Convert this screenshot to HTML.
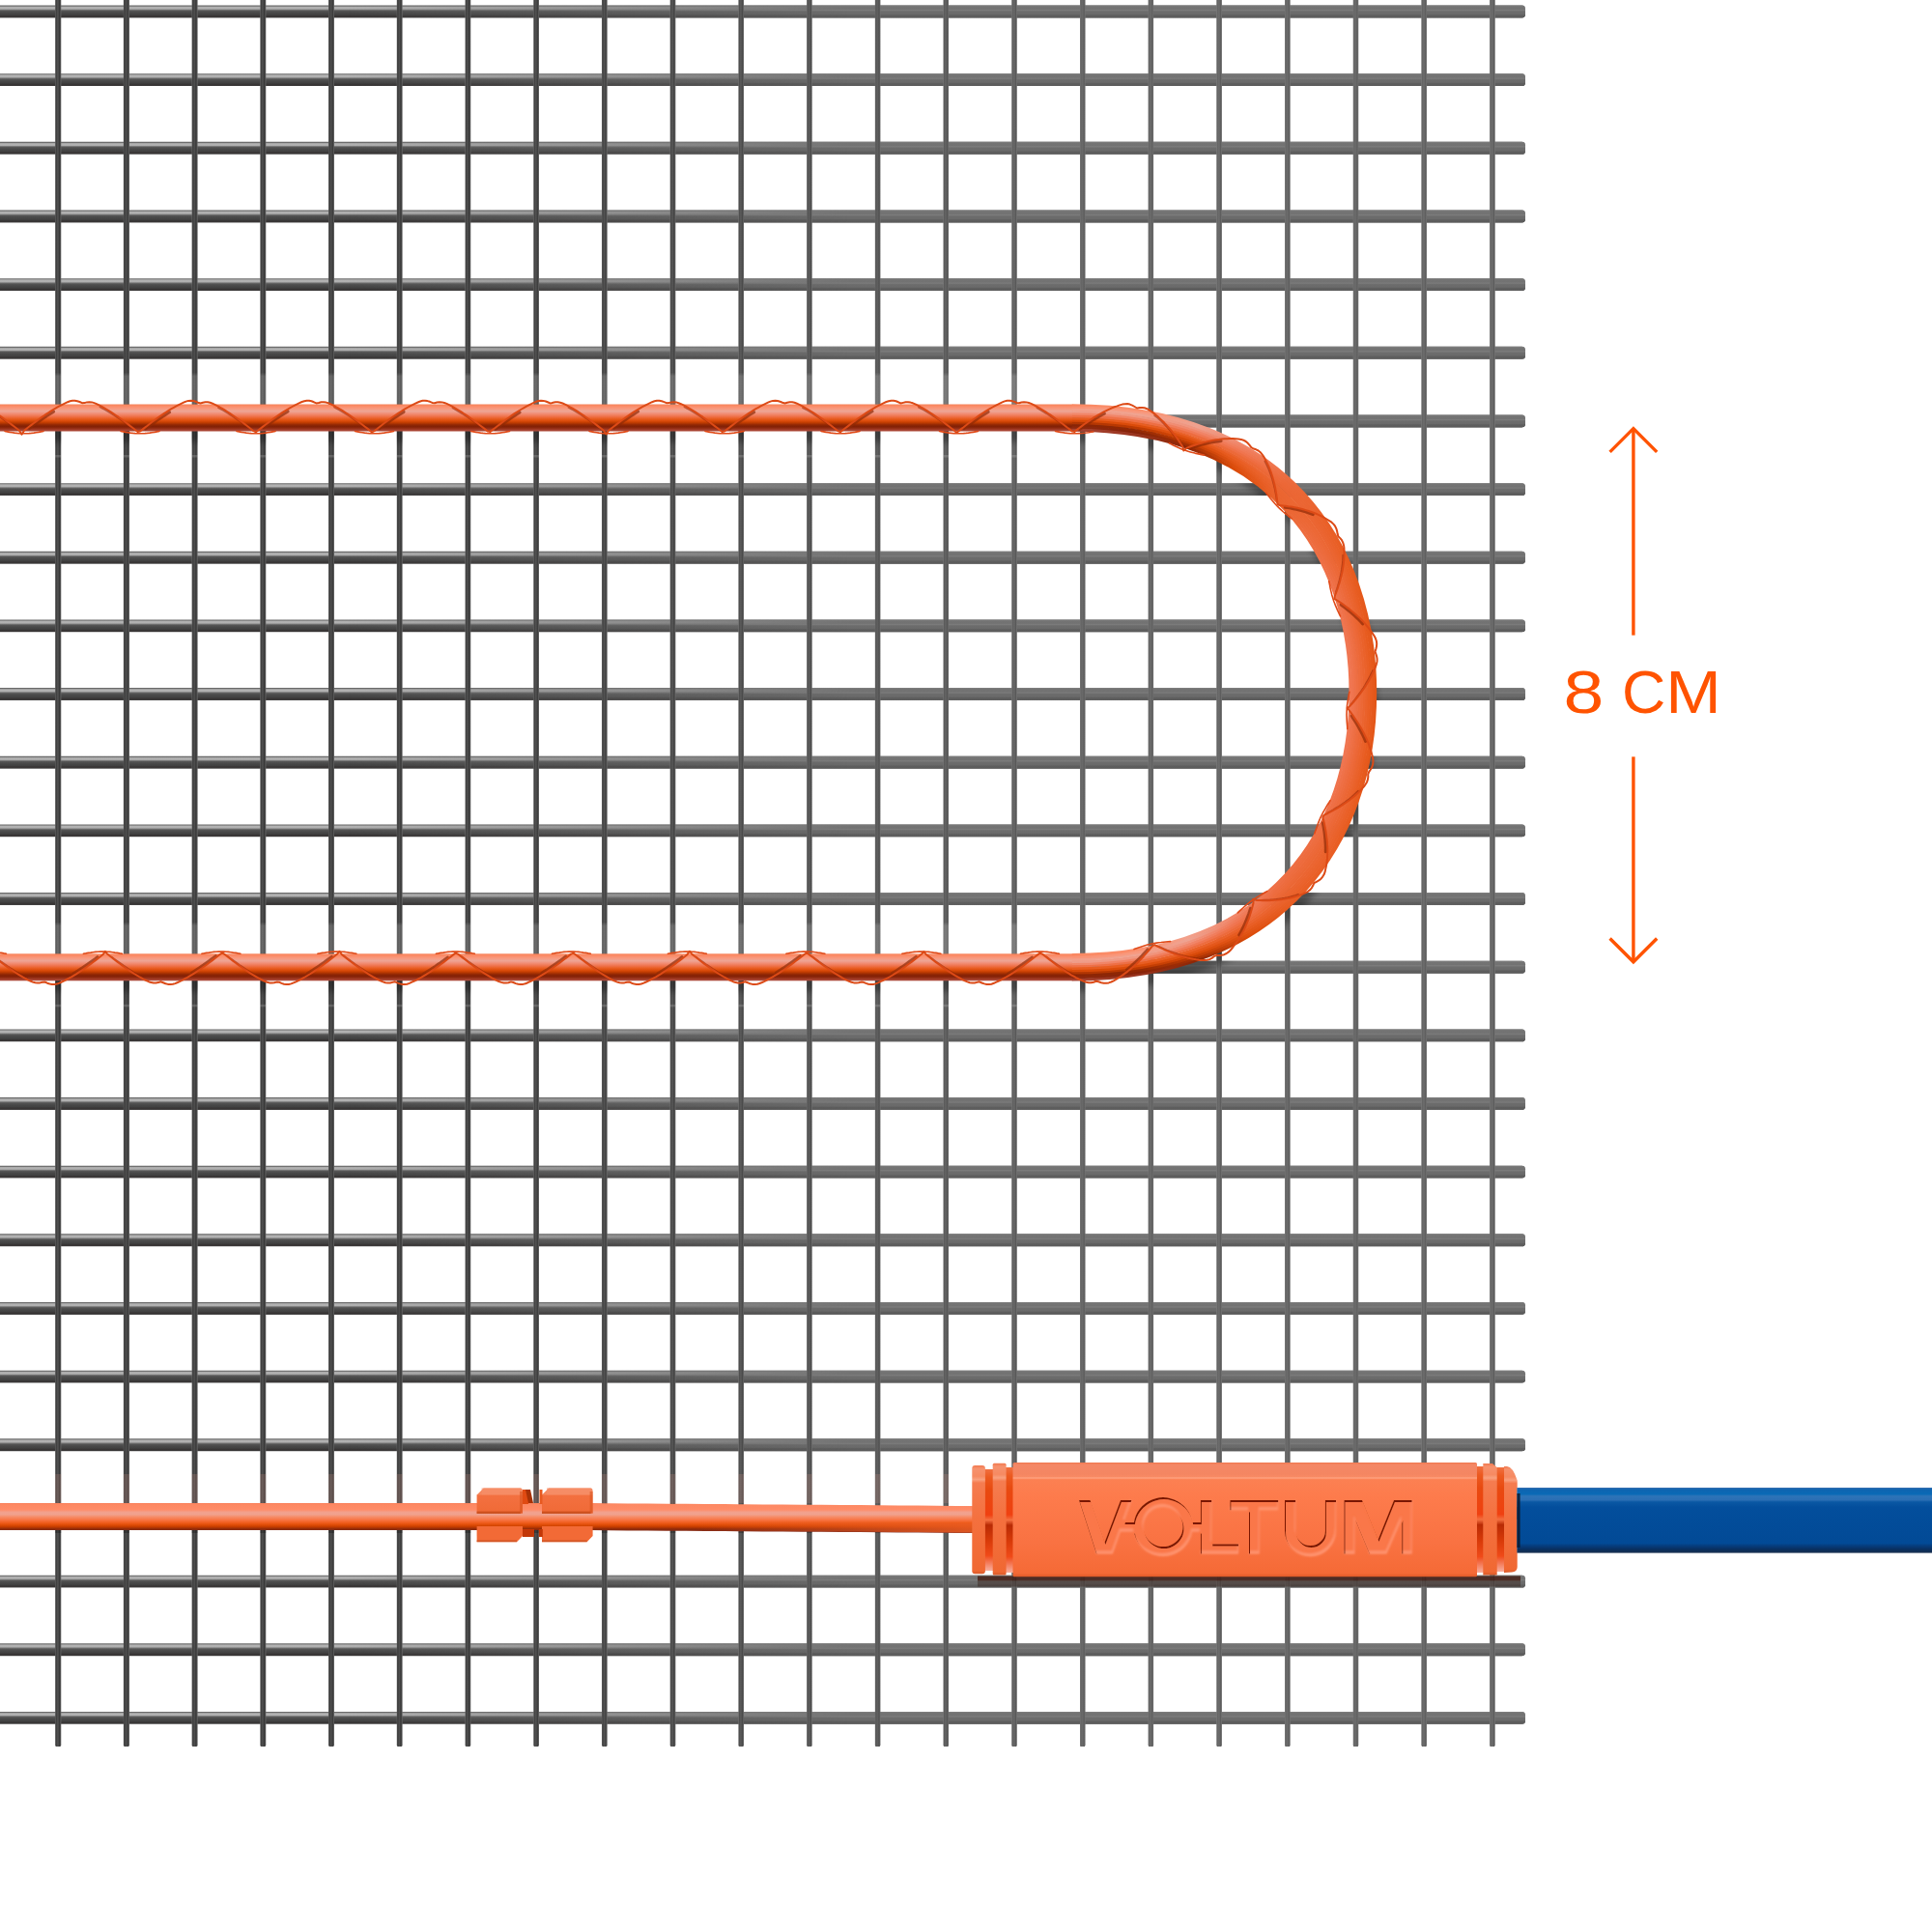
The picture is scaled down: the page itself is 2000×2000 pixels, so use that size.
<!DOCTYPE html><html><head><meta charset="utf-8"><style>html,body{margin:0;padding:0;background:#fff;}svg{display:block}</style></head><body>
<svg width="2000" height="2000" viewBox="0 0 2000 2000">
<defs>
<linearGradient id="hd" x1="0" y1="0" x2="0" y2="1"><stop offset="0.000" stop-color="#666666"/><stop offset="0.060" stop-color="#6e6e6e"/><stop offset="0.100" stop-color="#9c9c9c"/><stop offset="0.160" stop-color="#b2b2b2"/><stop offset="0.280" stop-color="#b0b0b0"/><stop offset="0.360" stop-color="#7a7a7a"/><stop offset="0.440" stop-color="#555555"/><stop offset="0.600" stop-color="#484848"/><stop offset="0.750" stop-color="#424242"/><stop offset="0.860" stop-color="#383535"/><stop offset="0.950" stop-color="#3a3838"/><stop offset="1.000" stop-color="#555555"/></linearGradient>
<linearGradient id="hl" x1="0" y1="0" x2="0" y2="1"><stop offset="0.000" stop-color="#828282"/><stop offset="0.100" stop-color="#747474"/><stop offset="0.300" stop-color="#727272"/><stop offset="0.380" stop-color="#7c7c7c"/><stop offset="0.500" stop-color="#6c6c6c"/><stop offset="0.700" stop-color="#6a6a6a"/><stop offset="0.800" stop-color="#5e5e5e"/><stop offset="0.950" stop-color="#5c5c5c"/><stop offset="1.000" stop-color="#727272"/></linearGradient>
<linearGradient id="vd" x1="0" y1="0" x2="1" y2="0"><stop offset="0.000" stop-color="#6a6a6a"/><stop offset="0.120" stop-color="#444"/><stop offset="0.250" stop-color="#404040"/><stop offset="0.400" stop-color="#505050"/><stop offset="0.550" stop-color="#4a4a4a"/><stop offset="0.700" stop-color="#383838"/><stop offset="0.850" stop-color="#4a4a4a"/><stop offset="1.000" stop-color="#6a6a6a"/></linearGradient>
<linearGradient id="vl" x1="0" y1="0" x2="1" y2="0"><stop offset="0.000" stop-color="#808080"/><stop offset="0.150" stop-color="#646464"/><stop offset="0.400" stop-color="#6c6c6c"/><stop offset="0.600" stop-color="#686868"/><stop offset="0.800" stop-color="#5c5c5c"/><stop offset="1.000" stop-color="#787878"/></linearGradient>
<linearGradient id="mg" gradientUnits="userSpaceOnUse" x1="360" y1="0" x2="880" y2="0"><stop offset="0" stop-color="#000"/><stop offset="1" stop-color="#fff"/></linearGradient>
<mask id="ml" maskUnits="userSpaceOnUse" x="0" y="0" width="2000" height="2000"><rect width="2000" height="2000" fill="url(#mg)"/></mask>
<linearGradient id="mg2" gradientUnits="userSpaceOnUse" x1="520" y1="0" x2="1150" y2="0"><stop offset="0" stop-color="#000"/><stop offset="1" stop-color="#fff"/></linearGradient>
<mask id="ml2" maskUnits="userSpaceOnUse" x="0" y="0" width="2000" height="2000"><rect width="2000" height="2000" fill="url(#mg2)"/></mask>
<linearGradient id="cg" x1="0" y1="0" x2="0" y2="1"><stop offset="0.000" stop-color="#f4845c"/><stop offset="0.025" stop-color="#f7865f"/><stop offset="0.050" stop-color="#fb8963"/><stop offset="0.075" stop-color="#fb8c68"/><stop offset="0.100" stop-color="#fb906e"/><stop offset="0.125" stop-color="#fa9375"/><stop offset="0.150" stop-color="#f9977b"/><stop offset="0.175" stop-color="#f79b81"/><stop offset="0.200" stop-color="#f49e87"/><stop offset="0.225" stop-color="#f1a18d"/><stop offset="0.250" stop-color="#eea594"/><stop offset="0.275" stop-color="#eea290"/><stop offset="0.300" stop-color="#ef9b87"/><stop offset="0.325" stop-color="#f0947e"/><stop offset="0.350" stop-color="#f18d74"/><stop offset="0.375" stop-color="#f1876a"/><stop offset="0.400" stop-color="#f08060"/><stop offset="0.425" stop-color="#f07956"/><stop offset="0.450" stop-color="#ef724b"/><stop offset="0.475" stop-color="#ed6c3f"/><stop offset="0.500" stop-color="#eb6633"/><stop offset="0.525" stop-color="#e96027"/><stop offset="0.550" stop-color="#e65a1d"/><stop offset="0.575" stop-color="#e25416"/><stop offset="0.600" stop-color="#de4e0e"/><stop offset="0.625" stop-color="#d84908"/><stop offset="0.650" stop-color="#cd4305"/><stop offset="0.675" stop-color="#c23d02"/><stop offset="0.700" stop-color="#b53702"/><stop offset="0.725" stop-color="#a63103"/><stop offset="0.750" stop-color="#982a04"/><stop offset="0.775" stop-color="#8e2604"/><stop offset="0.800" stop-color="#872305"/><stop offset="0.825" stop-color="#832107"/><stop offset="0.850" stop-color="#89250b"/><stop offset="0.875" stop-color="#8f290f"/><stop offset="0.900" stop-color="#963119"/><stop offset="0.925" stop-color="#9e3924"/><stop offset="0.950" stop-color="#a5412f"/><stop offset="0.975" stop-color="#ab4838"/><stop offset="1.000" stop-color="#b0503e"/></linearGradient>
<linearGradient id="lbg" x1="0" y1="0" x2="0" y2="1"><stop offset="0" stop-color="#fff" stop-opacity="0"/><stop offset="0.12" stop-color="#fff" stop-opacity="0.16"/><stop offset="1" stop-color="#fff" stop-opacity="0.16"/></linearGradient>
</defs>
<rect width="2000" height="2000" fill="#fff"/>
<g fill="url(#hd)"><rect x="-10" y="5.55" width="1589.0" height="12.9" rx="3.6"/><rect x="-10" y="76.21" width="1589.0" height="12.9" rx="3.6"/><rect x="-10" y="146.86" width="1589.0" height="12.9" rx="3.6"/><rect x="-10" y="217.52" width="1589.0" height="12.9" rx="3.6"/><rect x="-10" y="288.17" width="1589.0" height="12.9" rx="3.6"/><rect x="-10" y="358.83" width="1589.0" height="12.9" rx="3.6"/><rect x="-10" y="429.49" width="1589.0" height="12.9" rx="3.6"/><rect x="-10" y="500.14" width="1589.0" height="12.9" rx="3.6"/><rect x="-10" y="570.80" width="1589.0" height="12.9" rx="3.6"/><rect x="-10" y="641.45" width="1589.0" height="12.9" rx="3.6"/><rect x="-10" y="712.11" width="1589.0" height="12.9" rx="3.6"/><rect x="-10" y="782.77" width="1589.0" height="12.9" rx="3.6"/><rect x="-10" y="853.42" width="1589.0" height="12.9" rx="3.6"/><rect x="-10" y="924.08" width="1589.0" height="12.9" rx="3.6"/><rect x="-10" y="994.73" width="1589.0" height="12.9" rx="3.6"/><rect x="-10" y="1065.39" width="1589.0" height="12.9" rx="3.6"/><rect x="-10" y="1136.05" width="1589.0" height="12.9" rx="3.6"/><rect x="-10" y="1206.70" width="1589.0" height="12.9" rx="3.6"/><rect x="-10" y="1277.36" width="1589.0" height="12.9" rx="3.6"/><rect x="-10" y="1348.01" width="1589.0" height="12.9" rx="3.6"/><rect x="-10" y="1418.67" width="1589.0" height="12.9" rx="3.6"/><rect x="-10" y="1489.33" width="1589.0" height="12.9" rx="3.6"/><rect x="-10" y="1559.98" width="1589.0" height="12.9" rx="3.6"/><rect x="-10" y="1630.64" width="1589.0" height="12.9" rx="3.6"/><rect x="-10" y="1701.29" width="1589.0" height="12.9" rx="3.6"/><rect x="-10" y="1771.95" width="1589.0" height="12.9" rx="3.6"/></g>
<g fill="url(#hl)" mask="url(#ml)"><rect x="-10" y="5.55" width="1589.0" height="12.9" rx="3.6"/><rect x="-10" y="76.21" width="1589.0" height="12.9" rx="3.6"/><rect x="-10" y="146.86" width="1589.0" height="12.9" rx="3.6"/><rect x="-10" y="217.52" width="1589.0" height="12.9" rx="3.6"/><rect x="-10" y="288.17" width="1589.0" height="12.9" rx="3.6"/><rect x="-10" y="358.83" width="1589.0" height="12.9" rx="3.6"/><rect x="-10" y="429.49" width="1589.0" height="12.9" rx="3.6"/><rect x="-10" y="500.14" width="1589.0" height="12.9" rx="3.6"/><rect x="-10" y="570.80" width="1589.0" height="12.9" rx="3.6"/><rect x="-10" y="641.45" width="1589.0" height="12.9" rx="3.6"/><rect x="-10" y="712.11" width="1589.0" height="12.9" rx="3.6"/><rect x="-10" y="782.77" width="1589.0" height="12.9" rx="3.6"/><rect x="-10" y="853.42" width="1589.0" height="12.9" rx="3.6"/><rect x="-10" y="924.08" width="1589.0" height="12.9" rx="3.6"/><rect x="-10" y="994.73" width="1589.0" height="12.9" rx="3.6"/><rect x="-10" y="1065.39" width="1589.0" height="12.9" rx="3.6"/><rect x="-10" y="1136.05" width="1589.0" height="12.9" rx="3.6"/><rect x="-10" y="1206.70" width="1589.0" height="12.9" rx="3.6"/><rect x="-10" y="1277.36" width="1589.0" height="12.9" rx="3.6"/><rect x="-10" y="1348.01" width="1589.0" height="12.9" rx="3.6"/><rect x="-10" y="1418.67" width="1589.0" height="12.9" rx="3.6"/><rect x="-10" y="1489.33" width="1589.0" height="12.9" rx="3.6"/><rect x="-10" y="1559.98" width="1589.0" height="12.9" rx="3.6"/><rect x="-10" y="1630.64" width="1589.0" height="12.9" rx="3.6"/><rect x="-10" y="1701.29" width="1589.0" height="12.9" rx="3.6"/><rect x="-10" y="1771.95" width="1589.0" height="12.9" rx="3.6"/></g>
<g fill="url(#vd)"><rect x="57.10" y="-10" width="6.20" height="1818.0" rx="1.6"/><rect x="127.83" y="-10" width="6.14" height="1818.0" rx="1.6"/><rect x="198.56" y="-10" width="6.07" height="1818.0" rx="1.6"/><rect x="269.30" y="-10" width="6.01" height="1818.0" rx="1.6"/><rect x="340.03" y="-10" width="5.94" height="1818.0" rx="1.6"/><rect x="410.76" y="-10" width="5.88" height="1818.0" rx="1.6"/><rect x="481.49" y="-10" width="5.81" height="1818.0" rx="1.6"/><rect x="552.23" y="-10" width="5.75" height="1818.0" rx="1.6"/><rect x="622.96" y="-10" width="5.69" height="1818.0" rx="1.6"/><rect x="693.69" y="-10" width="5.62" height="1818.0" rx="1.6"/><rect x="764.42" y="-10" width="5.56" height="1818.0" rx="1.6"/><rect x="835.15" y="-10" width="5.49" height="1818.0" rx="1.6"/><rect x="905.89" y="-10" width="5.43" height="1818.0" rx="1.6"/><rect x="976.62" y="-10" width="5.36" height="1818.0" rx="1.6"/><rect x="1047.35" y="-10" width="5.30" height="1818.0" rx="1.6"/><rect x="1118.05" y="-10" width="5.30" height="1818.0" rx="1.6"/><rect x="1188.75" y="-10" width="5.30" height="1818.0" rx="1.6"/><rect x="1259.45" y="-10" width="5.30" height="1818.0" rx="1.6"/><rect x="1330.15" y="-10" width="5.30" height="1818.0" rx="1.6"/><rect x="1400.85" y="-10" width="5.30" height="1818.0" rx="1.6"/><rect x="1471.55" y="-10" width="5.30" height="1818.0" rx="1.6"/><rect x="1542.25" y="-10" width="5.30" height="1818.0" rx="1.6"/></g>
<g fill="url(#vl)" mask="url(#ml2)"><rect x="57.10" y="-10" width="6.20" height="1818.0" rx="1.6"/><rect x="127.83" y="-10" width="6.14" height="1818.0" rx="1.6"/><rect x="198.56" y="-10" width="6.07" height="1818.0" rx="1.6"/><rect x="269.30" y="-10" width="6.01" height="1818.0" rx="1.6"/><rect x="340.03" y="-10" width="5.94" height="1818.0" rx="1.6"/><rect x="410.76" y="-10" width="5.88" height="1818.0" rx="1.6"/><rect x="481.49" y="-10" width="5.81" height="1818.0" rx="1.6"/><rect x="552.23" y="-10" width="5.75" height="1818.0" rx="1.6"/><rect x="622.96" y="-10" width="5.69" height="1818.0" rx="1.6"/><rect x="693.69" y="-10" width="5.62" height="1818.0" rx="1.6"/><rect x="764.42" y="-10" width="5.56" height="1818.0" rx="1.6"/><rect x="835.15" y="-10" width="5.49" height="1818.0" rx="1.6"/><rect x="905.89" y="-10" width="5.43" height="1818.0" rx="1.6"/><rect x="976.62" y="-10" width="5.36" height="1818.0" rx="1.6"/><rect x="1047.35" y="-10" width="5.30" height="1818.0" rx="1.6"/><rect x="1118.05" y="-10" width="5.30" height="1818.0" rx="1.6"/><rect x="1188.75" y="-10" width="5.30" height="1818.0" rx="1.6"/><rect x="1259.45" y="-10" width="5.30" height="1818.0" rx="1.6"/><rect x="1330.15" y="-10" width="5.30" height="1818.0" rx="1.6"/><rect x="1400.85" y="-10" width="5.30" height="1818.0" rx="1.6"/><rect x="1471.55" y="-10" width="5.30" height="1818.0" rx="1.6"/><rect x="1542.25" y="-10" width="5.30" height="1818.0" rx="1.6"/></g>
<mask id="wm" maskUnits="userSpaceOnUse" x="0" y="0" width="2000" height="2000"><g fill="#fff"><rect x="-10" y="5.55" width="1589.0" height="12.9" rx="3.6"/><rect x="-10" y="76.21" width="1589.0" height="12.9" rx="3.6"/><rect x="-10" y="146.86" width="1589.0" height="12.9" rx="3.6"/><rect x="-10" y="217.52" width="1589.0" height="12.9" rx="3.6"/><rect x="-10" y="288.17" width="1589.0" height="12.9" rx="3.6"/><rect x="-10" y="358.83" width="1589.0" height="12.9" rx="3.6"/><rect x="-10" y="429.49" width="1589.0" height="12.9" rx="3.6"/><rect x="-10" y="500.14" width="1589.0" height="12.9" rx="3.6"/><rect x="-10" y="570.80" width="1589.0" height="12.9" rx="3.6"/><rect x="-10" y="641.45" width="1589.0" height="12.9" rx="3.6"/><rect x="-10" y="712.11" width="1589.0" height="12.9" rx="3.6"/><rect x="-10" y="782.77" width="1589.0" height="12.9" rx="3.6"/><rect x="-10" y="853.42" width="1589.0" height="12.9" rx="3.6"/><rect x="-10" y="924.08" width="1589.0" height="12.9" rx="3.6"/><rect x="-10" y="994.73" width="1589.0" height="12.9" rx="3.6"/><rect x="-10" y="1065.39" width="1589.0" height="12.9" rx="3.6"/><rect x="-10" y="1136.05" width="1589.0" height="12.9" rx="3.6"/><rect x="-10" y="1206.70" width="1589.0" height="12.9" rx="3.6"/><rect x="-10" y="1277.36" width="1589.0" height="12.9" rx="3.6"/><rect x="-10" y="1348.01" width="1589.0" height="12.9" rx="3.6"/><rect x="-10" y="1418.67" width="1589.0" height="12.9" rx="3.6"/><rect x="-10" y="1489.33" width="1589.0" height="12.9" rx="3.6"/><rect x="-10" y="1559.98" width="1589.0" height="12.9" rx="3.6"/><rect x="-10" y="1630.64" width="1589.0" height="12.9" rx="3.6"/><rect x="-10" y="1701.29" width="1589.0" height="12.9" rx="3.6"/><rect x="-10" y="1771.95" width="1589.0" height="12.9" rx="3.6"/><rect x="57.10" y="-10" width="6.20" height="1818.0" rx="1.6"/><rect x="127.83" y="-10" width="6.14" height="1818.0" rx="1.6"/><rect x="198.56" y="-10" width="6.07" height="1818.0" rx="1.6"/><rect x="269.30" y="-10" width="6.01" height="1818.0" rx="1.6"/><rect x="340.03" y="-10" width="5.94" height="1818.0" rx="1.6"/><rect x="410.76" y="-10" width="5.88" height="1818.0" rx="1.6"/><rect x="481.49" y="-10" width="5.81" height="1818.0" rx="1.6"/><rect x="552.23" y="-10" width="5.75" height="1818.0" rx="1.6"/><rect x="622.96" y="-10" width="5.69" height="1818.0" rx="1.6"/><rect x="693.69" y="-10" width="5.62" height="1818.0" rx="1.6"/><rect x="764.42" y="-10" width="5.56" height="1818.0" rx="1.6"/><rect x="835.15" y="-10" width="5.49" height="1818.0" rx="1.6"/><rect x="905.89" y="-10" width="5.43" height="1818.0" rx="1.6"/><rect x="976.62" y="-10" width="5.36" height="1818.0" rx="1.6"/><rect x="1047.35" y="-10" width="5.30" height="1818.0" rx="1.6"/><rect x="1118.05" y="-10" width="5.30" height="1818.0" rx="1.6"/><rect x="1188.75" y="-10" width="5.30" height="1818.0" rx="1.6"/><rect x="1259.45" y="-10" width="5.30" height="1818.0" rx="1.6"/><rect x="1330.15" y="-10" width="5.30" height="1818.0" rx="1.6"/><rect x="1400.85" y="-10" width="5.30" height="1818.0" rx="1.6"/><rect x="1471.55" y="-10" width="5.30" height="1818.0" rx="1.6"/><rect x="1542.25" y="-10" width="5.30" height="1818.0" rx="1.6"/></g></mask>
<filter id="sb" x="-5%" y="-5%" width="110%" height="110%"><feGaussianBlur stdDeviation="3"/></filter>
<g mask="url(#wm)"><path d="M-30,432.5 H1109.8 C1322.2,432.5 1410.9,568.4 1410.9,716.9 C1410.9,865.4 1322.2,1001.3 1109.8,1001.3 H-30" transform="translate(3,13)" fill="none" stroke="#000" stroke-width="24" opacity="0.32" filter="url(#sb)"/><path d="M-30,1571 L600,1571 L1010,1574" transform="translate(2,12)" fill="none" stroke="#000" stroke-width="24" opacity="0.25" filter="url(#sb)"/></g>
<rect x="57.10" y="385.5" width="6.20" height="33.0" fill="url(#lbg)"/><rect x="57.10" y="471.0" width="6.20" height="2.5" fill="#fff" opacity="0.16"/><rect x="57.10" y="954.3" width="6.20" height="33.0" fill="url(#lbg)"/><rect x="57.10" y="1039.8" width="6.20" height="2.5" fill="#fff" opacity="0.16"/><rect x="57.10" y="1526.0" width="6.20" height="30.0" fill="#f0a090" opacity="0.18"/><rect x="127.83" y="385.5" width="6.14" height="33.0" fill="url(#lbg)"/><rect x="127.83" y="471.0" width="6.14" height="2.5" fill="#fff" opacity="0.16"/><rect x="127.83" y="954.3" width="6.14" height="33.0" fill="url(#lbg)"/><rect x="127.83" y="1039.8" width="6.14" height="2.5" fill="#fff" opacity="0.16"/><rect x="127.83" y="1526.0" width="6.14" height="30.0" fill="#f0a090" opacity="0.18"/><rect x="198.56" y="385.5" width="6.07" height="33.0" fill="url(#lbg)"/><rect x="198.56" y="471.0" width="6.07" height="2.5" fill="#fff" opacity="0.16"/><rect x="198.56" y="954.3" width="6.07" height="33.0" fill="url(#lbg)"/><rect x="198.56" y="1039.8" width="6.07" height="2.5" fill="#fff" opacity="0.16"/><rect x="198.56" y="1526.0" width="6.07" height="30.0" fill="#f0a090" opacity="0.18"/><rect x="269.30" y="385.5" width="6.01" height="33.0" fill="url(#lbg)"/><rect x="269.30" y="471.0" width="6.01" height="2.5" fill="#fff" opacity="0.16"/><rect x="269.30" y="954.3" width="6.01" height="33.0" fill="url(#lbg)"/><rect x="269.30" y="1039.8" width="6.01" height="2.5" fill="#fff" opacity="0.16"/><rect x="269.30" y="1526.0" width="6.01" height="30.0" fill="#f0a090" opacity="0.18"/><rect x="340.03" y="385.5" width="5.94" height="33.0" fill="url(#lbg)"/><rect x="340.03" y="471.0" width="5.94" height="2.5" fill="#fff" opacity="0.16"/><rect x="340.03" y="954.3" width="5.94" height="33.0" fill="url(#lbg)"/><rect x="340.03" y="1039.8" width="5.94" height="2.5" fill="#fff" opacity="0.16"/><rect x="340.03" y="1526.0" width="5.94" height="30.0" fill="#f0a090" opacity="0.18"/><rect x="410.76" y="385.5" width="5.88" height="33.0" fill="url(#lbg)"/><rect x="410.76" y="471.0" width="5.88" height="2.5" fill="#fff" opacity="0.16"/><rect x="410.76" y="954.3" width="5.88" height="33.0" fill="url(#lbg)"/><rect x="410.76" y="1039.8" width="5.88" height="2.5" fill="#fff" opacity="0.16"/><rect x="410.76" y="1526.0" width="5.88" height="30.0" fill="#f0a090" opacity="0.18"/><rect x="481.49" y="385.5" width="5.81" height="33.0" fill="url(#lbg)"/><rect x="481.49" y="471.0" width="5.81" height="2.5" fill="#fff" opacity="0.16"/><rect x="481.49" y="954.3" width="5.81" height="33.0" fill="url(#lbg)"/><rect x="481.49" y="1039.8" width="5.81" height="2.5" fill="#fff" opacity="0.16"/><rect x="481.49" y="1526.0" width="5.81" height="30.0" fill="#f0a090" opacity="0.18"/><rect x="552.23" y="385.5" width="5.75" height="33.0" fill="url(#lbg)"/><rect x="552.23" y="471.0" width="5.75" height="2.5" fill="#fff" opacity="0.16"/><rect x="552.23" y="954.3" width="5.75" height="33.0" fill="url(#lbg)"/><rect x="552.23" y="1039.8" width="5.75" height="2.5" fill="#fff" opacity="0.16"/><rect x="552.23" y="1526.0" width="5.75" height="30.0" fill="#f0a090" opacity="0.18"/><rect x="622.96" y="385.5" width="5.69" height="33.0" fill="url(#lbg)"/><rect x="622.96" y="471.0" width="5.69" height="2.5" fill="#fff" opacity="0.16"/><rect x="622.96" y="954.3" width="5.69" height="33.0" fill="url(#lbg)"/><rect x="622.96" y="1039.8" width="5.69" height="2.5" fill="#fff" opacity="0.16"/><rect x="622.96" y="1526.0" width="5.69" height="30.0" fill="#f0a090" opacity="0.18"/><rect x="693.69" y="385.5" width="5.62" height="33.0" fill="url(#lbg)"/><rect x="693.69" y="471.0" width="5.62" height="2.5" fill="#fff" opacity="0.16"/><rect x="693.69" y="954.3" width="5.62" height="33.0" fill="url(#lbg)"/><rect x="693.69" y="1039.8" width="5.62" height="2.5" fill="#fff" opacity="0.16"/><rect x="693.69" y="1526.0" width="5.62" height="30.0" fill="#f0a090" opacity="0.18"/><rect x="764.42" y="385.5" width="5.56" height="33.0" fill="url(#lbg)"/><rect x="764.42" y="471.0" width="5.56" height="2.5" fill="#fff" opacity="0.16"/><rect x="764.42" y="954.3" width="5.56" height="33.0" fill="url(#lbg)"/><rect x="764.42" y="1039.8" width="5.56" height="2.5" fill="#fff" opacity="0.16"/><rect x="764.42" y="1526.0" width="5.56" height="30.0" fill="#f0a090" opacity="0.18"/><rect x="835.15" y="385.5" width="5.49" height="33.0" fill="url(#lbg)"/><rect x="835.15" y="471.0" width="5.49" height="2.5" fill="#fff" opacity="0.16"/><rect x="835.15" y="954.3" width="5.49" height="33.0" fill="url(#lbg)"/><rect x="835.15" y="1039.8" width="5.49" height="2.5" fill="#fff" opacity="0.16"/><rect x="835.15" y="1526.0" width="5.49" height="30.0" fill="#f0a090" opacity="0.18"/><rect x="905.89" y="385.5" width="5.43" height="33.0" fill="url(#lbg)"/><rect x="905.89" y="471.0" width="5.43" height="2.5" fill="#fff" opacity="0.16"/><rect x="905.89" y="954.3" width="5.43" height="33.0" fill="url(#lbg)"/><rect x="905.89" y="1039.8" width="5.43" height="2.5" fill="#fff" opacity="0.16"/><rect x="905.89" y="1526.0" width="5.43" height="30.0" fill="#f0a090" opacity="0.18"/><rect x="976.62" y="385.5" width="5.36" height="33.0" fill="url(#lbg)"/><rect x="976.62" y="471.0" width="5.36" height="2.5" fill="#fff" opacity="0.16"/><rect x="976.62" y="954.3" width="5.36" height="33.0" fill="url(#lbg)"/><rect x="976.62" y="1039.8" width="5.36" height="2.5" fill="#fff" opacity="0.16"/><rect x="976.62" y="1526.0" width="5.36" height="30.0" fill="#f0a090" opacity="0.18"/><rect x="1047.35" y="385.5" width="5.30" height="33.0" fill="url(#lbg)"/><rect x="1047.35" y="471.0" width="5.30" height="2.5" fill="#fff" opacity="0.16"/><rect x="1047.35" y="954.3" width="5.30" height="33.0" fill="url(#lbg)"/><rect x="1047.35" y="1039.8" width="5.30" height="2.5" fill="#fff" opacity="0.16"/>
<rect x="-10" y="418.50" width="1120.35" height="28.00" fill="url(#cg)"/>
<rect x="-10" y="987.30" width="1120.35" height="28.00" fill="url(#cg)"/>
<defs><linearGradient id="b1" gradientUnits="userSpaceOnUse" x1="1109.8" y1="419.7" x2="1423.7" y2="716.9"><stop offset="0.000" stop-color="#fa8862"/><stop offset="0.125" stop-color="#fb8f6c"/><stop offset="0.250" stop-color="#f1a28e"/><stop offset="0.375" stop-color="#f18466"/><stop offset="0.500" stop-color="#ed6b3c"/><stop offset="0.625" stop-color="#e96028"/><stop offset="0.750" stop-color="#e75b1e"/><stop offset="0.875" stop-color="#e45719"/><stop offset="1.000" stop-color="#e35617"/></linearGradient><linearGradient id="b2" gradientUnits="userSpaceOnUse" x1="1109.8" y1="422.0" x2="1421.4" y2="716.9"><stop offset="0.000" stop-color="#fa9375"/><stop offset="0.125" stop-color="#f8997e"/><stop offset="0.250" stop-color="#eea290"/><stop offset="0.375" stop-color="#f07e5e"/><stop offset="0.500" stop-color="#ec6a3b"/><stop offset="0.625" stop-color="#ea612a"/><stop offset="0.750" stop-color="#e85d21"/><stop offset="0.875" stop-color="#e65a1d"/><stop offset="1.000" stop-color="#e5581b"/></linearGradient><linearGradient id="b3" gradientUnits="userSpaceOnUse" x1="1109.8" y1="424.3" x2="1419.0" y2="716.9"><stop offset="0.000" stop-color="#f39f89"/><stop offset="0.125" stop-color="#f0a390"/><stop offset="0.250" stop-color="#f0947d"/><stop offset="0.375" stop-color="#f07a57"/><stop offset="0.500" stop-color="#ec6939"/><stop offset="0.625" stop-color="#ea622c"/><stop offset="0.750" stop-color="#e95f25"/><stop offset="0.875" stop-color="#e85c20"/><stop offset="1.000" stop-color="#e75b1f"/></linearGradient><linearGradient id="b4" gradientUnits="userSpaceOnUse" x1="1109.8" y1="426.7" x2="1416.7" y2="716.9"><stop offset="0.000" stop-color="#ef9d8a"/><stop offset="0.125" stop-color="#f09882"/><stop offset="0.250" stop-color="#f1866a"/><stop offset="0.375" stop-color="#f0744e"/><stop offset="0.500" stop-color="#ec6837"/><stop offset="0.625" stop-color="#ea632e"/><stop offset="0.750" stop-color="#ea6129"/><stop offset="0.875" stop-color="#e95f26"/><stop offset="1.000" stop-color="#e95e24"/></linearGradient><linearGradient id="b5" gradientUnits="userSpaceOnUse" x1="1109.8" y1="429.0" x2="1414.4" y2="716.9"><stop offset="0.000" stop-color="#f1876a"/><stop offset="0.125" stop-color="#f18365"/><stop offset="0.250" stop-color="#f07956"/><stop offset="0.375" stop-color="#ee6e43"/><stop offset="0.500" stop-color="#ec6736"/><stop offset="0.625" stop-color="#eb6430"/><stop offset="0.750" stop-color="#ea632d"/><stop offset="0.875" stop-color="#ea622b"/><stop offset="1.000" stop-color="#ea612a"/></linearGradient><linearGradient id="b6" gradientUnits="userSpaceOnUse" x1="1109.8" y1="431.3" x2="1412.0" y2="716.9"><stop offset="0.000" stop-color="#ef7047"/><stop offset="0.125" stop-color="#ee6f45"/><stop offset="0.250" stop-color="#ed6c3f"/><stop offset="0.375" stop-color="#ec6938"/><stop offset="0.500" stop-color="#eb6634"/><stop offset="0.625" stop-color="#eb6532"/><stop offset="0.750" stop-color="#eb6531"/><stop offset="0.875" stop-color="#eb6530"/><stop offset="1.000" stop-color="#eb6430"/></linearGradient><linearGradient id="b7" gradientUnits="userSpaceOnUse" x1="1109.7" y1="433.7" x2="1409.7" y2="716.9"><stop offset="0.000" stop-color="#e85c20"/><stop offset="0.125" stop-color="#e85d21"/><stop offset="0.250" stop-color="#e96027"/><stop offset="0.375" stop-color="#ea632e"/><stop offset="0.500" stop-color="#eb6632"/><stop offset="0.625" stop-color="#eb6734"/><stop offset="0.750" stop-color="#ec6735"/><stop offset="0.875" stop-color="#ec6736"/><stop offset="1.000" stop-color="#ec6836"/></linearGradient><linearGradient id="b8" gradientUnits="userSpaceOnUse" x1="1109.7" y1="436.0" x2="1407.4" y2="716.9"><stop offset="0.000" stop-color="#d84908"/><stop offset="0.125" stop-color="#db4c0a"/><stop offset="0.250" stop-color="#e25415"/><stop offset="0.375" stop-color="#e95e23"/><stop offset="0.500" stop-color="#eb6530"/><stop offset="0.625" stop-color="#ec6836"/><stop offset="0.750" stop-color="#ec6939"/><stop offset="0.875" stop-color="#ed6a3b"/><stop offset="1.000" stop-color="#ed6b3c"/></linearGradient><linearGradient id="b9" gradientUnits="userSpaceOnUse" x1="1109.7" y1="438.3" x2="1405.0" y2="716.9"><stop offset="0.000" stop-color="#b03503"/><stop offset="0.125" stop-color="#bc3a02"/><stop offset="0.250" stop-color="#d74807"/><stop offset="0.375" stop-color="#e5591c"/><stop offset="0.500" stop-color="#ea642f"/><stop offset="0.625" stop-color="#ec6938"/><stop offset="0.750" stop-color="#ed6b3d"/><stop offset="0.875" stop-color="#ed6d41"/><stop offset="1.000" stop-color="#ee6e42"/></linearGradient><linearGradient id="b10" gradientUnits="userSpaceOnUse" x1="1109.7" y1="440.7" x2="1402.7" y2="716.9"><stop offset="0.000" stop-color="#8a2405"/><stop offset="0.125" stop-color="#912804"/><stop offset="0.250" stop-color="#c13c02"/><stop offset="0.375" stop-color="#e25415"/><stop offset="0.500" stop-color="#ea632d"/><stop offset="0.625" stop-color="#ec6a3a"/><stop offset="0.750" stop-color="#ed6d41"/><stop offset="0.875" stop-color="#ee7046"/><stop offset="1.000" stop-color="#ef7148"/></linearGradient><linearGradient id="b11" gradientUnits="userSpaceOnUse" x1="1109.7" y1="443.0" x2="1400.4" y2="716.9"><stop offset="0.000" stop-color="#8f290f"/><stop offset="0.125" stop-color="#862309"/><stop offset="0.250" stop-color="#a33003"/><stop offset="0.375" stop-color="#de4f0e"/><stop offset="0.500" stop-color="#ea622b"/><stop offset="0.625" stop-color="#ed6b3c"/><stop offset="0.750" stop-color="#ee6f45"/><stop offset="0.875" stop-color="#ef734c"/><stop offset="1.000" stop-color="#f0744e"/></linearGradient><linearGradient id="b12" gradientUnits="userSpaceOnUse" x1="1109.7" y1="445.3" x2="1398.0" y2="716.9"><stop offset="0.000" stop-color="#a74333"/><stop offset="0.125" stop-color="#9a351f"/><stop offset="0.250" stop-color="#8d2505"/><stop offset="0.375" stop-color="#da4a08"/><stop offset="0.500" stop-color="#e96129"/><stop offset="0.625" stop-color="#ed6c3e"/><stop offset="0.750" stop-color="#ef7149"/><stop offset="0.875" stop-color="#f07651"/><stop offset="1.000" stop-color="#f07753"/></linearGradient><linearGradient id="b13" gradientUnits="userSpaceOnUse" x1="1423.7" y1="716.9" x2="1109.8" y2="1014.1"><stop offset="0.000" stop-color="#e35617"/><stop offset="0.125" stop-color="#e45719"/><stop offset="0.250" stop-color="#e75b1e"/><stop offset="0.375" stop-color="#e95f26"/><stop offset="0.500" stop-color="#e85c21"/><stop offset="0.625" stop-color="#da4a08"/><stop offset="0.750" stop-color="#8e2604"/><stop offset="0.875" stop-color="#98331d"/><stop offset="1.000" stop-color="#a74333"/></linearGradient><linearGradient id="b14" gradientUnits="userSpaceOnUse" x1="1421.4" y1="716.9" x2="1109.8" y2="1011.8"><stop offset="0.000" stop-color="#e5581b"/><stop offset="0.125" stop-color="#e65a1d"/><stop offset="0.250" stop-color="#e85d21"/><stop offset="0.375" stop-color="#e96028"/><stop offset="0.500" stop-color="#e95e24"/><stop offset="0.625" stop-color="#de4f0f"/><stop offset="0.750" stop-color="#a73103"/><stop offset="0.875" stop-color="#862309"/><stop offset="1.000" stop-color="#8f290f"/></linearGradient><linearGradient id="b15" gradientUnits="userSpaceOnUse" x1="1419.0" y1="716.9" x2="1109.8" y2="1009.5"><stop offset="0.000" stop-color="#e75b1f"/><stop offset="0.125" stop-color="#e85c20"/><stop offset="0.250" stop-color="#e95f25"/><stop offset="0.375" stop-color="#ea612b"/><stop offset="0.500" stop-color="#e96027"/><stop offset="0.625" stop-color="#e15314"/><stop offset="0.750" stop-color="#c23d03"/><stop offset="0.875" stop-color="#912804"/><stop offset="1.000" stop-color="#8a2405"/></linearGradient><linearGradient id="b16" gradientUnits="userSpaceOnUse" x1="1416.7" y1="716.9" x2="1109.8" y2="1007.1"><stop offset="0.000" stop-color="#e95e24"/><stop offset="0.125" stop-color="#e95f26"/><stop offset="0.250" stop-color="#ea6129"/><stop offset="0.375" stop-color="#ea632d"/><stop offset="0.500" stop-color="#ea622b"/><stop offset="0.625" stop-color="#e5581b"/><stop offset="0.750" stop-color="#d84908"/><stop offset="0.875" stop-color="#bc3a02"/><stop offset="1.000" stop-color="#b03503"/></linearGradient><linearGradient id="b17" gradientUnits="userSpaceOnUse" x1="1414.4" y1="716.9" x2="1109.8" y2="1004.8"><stop offset="0.000" stop-color="#ea612a"/><stop offset="0.125" stop-color="#ea622b"/><stop offset="0.250" stop-color="#ea632d"/><stop offset="0.375" stop-color="#eb642f"/><stop offset="0.500" stop-color="#ea632e"/><stop offset="0.625" stop-color="#e85d23"/><stop offset="0.750" stop-color="#e25416"/><stop offset="0.875" stop-color="#db4c0a"/><stop offset="1.000" stop-color="#d84908"/></linearGradient><linearGradient id="b18" gradientUnits="userSpaceOnUse" x1="1412.0" y1="716.9" x2="1109.8" y2="1002.5"><stop offset="0.000" stop-color="#eb6430"/><stop offset="0.125" stop-color="#eb6530"/><stop offset="0.250" stop-color="#eb6531"/><stop offset="0.375" stop-color="#eb6532"/><stop offset="0.500" stop-color="#eb6531"/><stop offset="0.625" stop-color="#ea632e"/><stop offset="0.750" stop-color="#e96027"/><stop offset="0.875" stop-color="#e85d21"/><stop offset="1.000" stop-color="#e85c20"/></linearGradient><linearGradient id="b19" gradientUnits="userSpaceOnUse" x1="1409.7" y1="716.9" x2="1109.7" y2="1000.1"><stop offset="0.000" stop-color="#ec6836"/><stop offset="0.125" stop-color="#ec6736"/><stop offset="0.250" stop-color="#ec6735"/><stop offset="0.375" stop-color="#eb6734"/><stop offset="0.500" stop-color="#eb6735"/><stop offset="0.625" stop-color="#ec6939"/><stop offset="0.750" stop-color="#ed6c3f"/><stop offset="0.875" stop-color="#ee6f45"/><stop offset="1.000" stop-color="#ef7047"/></linearGradient><linearGradient id="b20" gradientUnits="userSpaceOnUse" x1="1407.4" y1="716.9" x2="1109.7" y2="997.8"><stop offset="0.000" stop-color="#ed6b3c"/><stop offset="0.125" stop-color="#ed6a3b"/><stop offset="0.250" stop-color="#ec6939"/><stop offset="0.375" stop-color="#ec6837"/><stop offset="0.500" stop-color="#ec6938"/><stop offset="0.625" stop-color="#ee6f44"/><stop offset="0.750" stop-color="#f07957"/><stop offset="0.875" stop-color="#f18365"/><stop offset="1.000" stop-color="#f1876a"/></linearGradient><linearGradient id="b21" gradientUnits="userSpaceOnUse" x1="1405.0" y1="716.9" x2="1109.7" y2="995.5"><stop offset="0.000" stop-color="#ee6e42"/><stop offset="0.125" stop-color="#ed6d41"/><stop offset="0.250" stop-color="#ed6b3d"/><stop offset="0.375" stop-color="#ec6939"/><stop offset="0.500" stop-color="#ed6b3c"/><stop offset="0.625" stop-color="#f0744f"/><stop offset="0.750" stop-color="#f1876b"/><stop offset="0.875" stop-color="#f09882"/><stop offset="1.000" stop-color="#ef9d8a"/></linearGradient><linearGradient id="b22" gradientUnits="userSpaceOnUse" x1="1402.7" y1="716.9" x2="1109.7" y2="993.1"><stop offset="0.000" stop-color="#ef7148"/><stop offset="0.125" stop-color="#ee7046"/><stop offset="0.250" stop-color="#ee6d41"/><stop offset="0.375" stop-color="#ed6b3c"/><stop offset="0.500" stop-color="#ed6c3f"/><stop offset="0.625" stop-color="#f07a58"/><stop offset="0.750" stop-color="#f0957f"/><stop offset="0.875" stop-color="#f0a390"/><stop offset="1.000" stop-color="#f39f89"/></linearGradient><linearGradient id="b23" gradientUnits="userSpaceOnUse" x1="1400.4" y1="716.9" x2="1109.7" y2="990.8"><stop offset="0.000" stop-color="#f0744e"/><stop offset="0.125" stop-color="#ef734c"/><stop offset="0.250" stop-color="#ee6f45"/><stop offset="0.375" stop-color="#ed6c3e"/><stop offset="0.500" stop-color="#ee6e43"/><stop offset="0.625" stop-color="#f08061"/><stop offset="0.750" stop-color="#eea392"/><stop offset="0.875" stop-color="#f8997e"/><stop offset="1.000" stop-color="#fa9375"/></linearGradient><linearGradient id="b24" gradientUnits="userSpaceOnUse" x1="1398.0" y1="716.9" x2="1109.7" y2="988.5"><stop offset="0.000" stop-color="#f07753"/><stop offset="0.125" stop-color="#f07651"/><stop offset="0.250" stop-color="#ef7149"/><stop offset="0.375" stop-color="#ed6d41"/><stop offset="0.500" stop-color="#ee7046"/><stop offset="0.625" stop-color="#f1876a"/><stop offset="0.750" stop-color="#f2a18c"/><stop offset="0.875" stop-color="#fb8e6b"/><stop offset="1.000" stop-color="#fa8862"/></linearGradient></defs>
<g fill="none" stroke-linecap="butt"><path d="M1109.8,419.7C1329.7,419.7 1423.7,562.2 1423.7,716.9" stroke="url(#b1)" stroke-width="3.03"/><path d="M1109.8,422.0C1326.7,422.0 1421.4,560.8 1421.4,716.9" stroke="url(#b2)" stroke-width="3.03"/><path d="M1109.8,424.3C1327.0,424.3 1419.0,564.3 1419.0,716.9" stroke="url(#b3)" stroke-width="3.03"/><path d="M1109.8,426.7C1325.7,426.7 1416.7,565.3 1416.7,716.9" stroke="url(#b4)" stroke-width="3.03"/><path d="M1109.8,429.0C1324.5,429.0 1414.4,566.4 1414.4,716.9" stroke="url(#b5)" stroke-width="3.03"/><path d="M1109.8,431.3C1323.2,431.3 1412.0,567.5 1412.0,716.9" stroke="url(#b6)" stroke-width="3.03"/><path d="M1109.7,433.7C1322.4,433.7 1409.7,570.3 1409.7,716.9" stroke="url(#b7)" stroke-width="3.03"/><path d="M1109.7,436.0C1321.1,436.0 1407.4,571.3 1407.4,716.9" stroke="url(#b8)" stroke-width="3.03"/><path d="M1109.7,438.3C1319.8,438.3 1405.0,572.4 1405.0,716.9" stroke="url(#b9)" stroke-width="3.03"/><path d="M1109.7,440.7C1318.5,440.7 1402.7,573.4 1402.7,716.9" stroke="url(#b10)" stroke-width="3.03"/><path d="M1109.7,443.0C1317.2,443.0 1400.4,574.5 1400.4,716.9" stroke="url(#b11)" stroke-width="3.03"/><path d="M1109.7,445.3C1316.8,445.3 1398.0,577.4 1398.0,716.9" stroke="url(#b12)" stroke-width="3.03"/><path d="M1423.7,716.9C1423.7,871.6 1329.7,1014.1 1109.8,1014.1" stroke="url(#b13)" stroke-width="3.03"/><path d="M1421.4,716.9C1421.4,873.0 1326.7,1011.8 1109.8,1011.8" stroke="url(#b14)" stroke-width="3.03"/><path d="M1419.0,716.9C1419.0,869.5 1327.0,1009.5 1109.8,1009.5" stroke="url(#b15)" stroke-width="3.03"/><path d="M1416.7,716.9C1416.7,868.5 1325.7,1007.1 1109.8,1007.1" stroke="url(#b16)" stroke-width="3.03"/><path d="M1414.4,716.9C1414.4,867.4 1324.5,1004.8 1109.8,1004.8" stroke="url(#b17)" stroke-width="3.03"/><path d="M1412.0,716.9C1412.0,866.3 1323.2,1002.5 1109.8,1002.5" stroke="url(#b18)" stroke-width="3.03"/><path d="M1409.7,716.9C1409.7,863.5 1322.4,1000.1 1109.7,1000.1" stroke="url(#b19)" stroke-width="3.03"/><path d="M1407.4,716.9C1407.4,862.5 1321.1,997.8 1109.7,997.8" stroke="url(#b20)" stroke-width="3.03"/><path d="M1405.0,716.9C1405.0,861.4 1319.8,995.5 1109.7,995.5" stroke="url(#b21)" stroke-width="3.03"/><path d="M1402.7,716.9C1402.7,860.4 1318.5,993.1 1109.7,993.1" stroke="url(#b22)" stroke-width="3.03"/><path d="M1400.4,716.9C1400.4,859.3 1317.2,990.8 1109.7,990.8" stroke="url(#b23)" stroke-width="3.03"/><path d="M1398.0,716.9C1398.0,856.4 1316.8,988.5 1109.7,988.5" stroke="url(#b24)" stroke-width="3.03"/></g>
<g fill="none" stroke-linecap="round" stroke-linejoin="round">
<g stroke="#8e2a06" stroke-width="3.2" stroke-opacity="0.7"><polyline points="30.5,443.2 33,441.3 35.5,439.5 38,437.7 40.5,435.9 43,434.1 45.5,432.4 48,430.8 50.5,429.1 53,427.6 55.5,426.1"/><polyline points="150.5,443.9 153,442 155.5,440.2 158,438.4 160.5,436.6 163,434.8 165.5,433.1 168,431.4 170.5,429.8 173,428.2 175.5,426.7"/><polyline points="273,442.8 275.5,440.9 278,439.1 280.5,437.3 283,435.5 285.5,433.8 288,432.1 290.5,430.4 293,428.8 295.5,427.3 298,425.8"/><polyline points="393,443.5 395.5,441.6 398,439.8 400.5,438 403,436.2 405.5,434.5 408,432.7 410.5,431.1 413,429.4 415.5,427.9 418,426.3"/><polyline points="513,444.2 515.5,442.4 518,440.5 520.5,438.7 523,436.9 525.5,435.2 528,433.4 530.5,431.7 533,430.1 535.5,428.5 538,426.9"/><polyline points="635.5,443.1 638,441.3 640.5,439.4 643,437.6 645.5,435.8 648,434.1 650.5,432.4 653,430.7 655.5,429.1 658,427.5 660.5,426"/><polyline points="755.5,443.8 758,442 760.5,440.2 763,438.3 765.5,436.5 768,434.8 770.5,433.1 773,431.4 775.5,429.7 778,428.2 780.5,426.6"/><polyline points="878,442.7 880.5,440.9 883,439.1 885.5,437.3 888,435.5 890.5,433.7 893,432 895.5,430.4 898,428.8 900.5,427.2 903,425.7"/><polyline points="998,443.5 1000.5,441.6 1003,439.8 1005.5,438 1008,436.2 1010.5,434.4 1013,432.7 1015.5,431 1018,429.4 1020.5,427.8 1023,426.3"/><polyline points="1117.9,444.3 1120.3,442.4 1122.8,440.7 1125.3,438.9 1127.9,437.2 1130.4,435.5 1133,433.9 1135.5,432.4 1138.1,430.9 1140.7,429.4 1143.3,428.1"/><polyline points="1234.8,462.9 1237.6,462 1240.5,461.2 1243.5,460.3 1246.4,459.6 1249.3,458.9 1252.3,458.3 1255.2,457.7 1258.2,457.2 1261.1,456.8 1264,456.5"/><polyline points="1330.2,525.1 1333.2,525.5 1336.1,526 1339.1,526.6 1342,527.3 1345,528 1347.9,528.7 1350.7,529.6 1353.6,530.5 1356.4,531.5 1359.2,532.5"/><polyline points="1388.2,625.9 1390.6,627.7 1393,629.5 1395.4,631.4 1397.7,633.3 1400,635.3 1402.3,637.3 1404.4,639.3 1406.6,641.4 1408.6,643.5 1410.6,645.7"/><polyline points="1399.2,741 1400.8,743.6 1402.5,746.1 1404.1,748.7 1405.6,751.3 1407.1,753.9 1408.5,756.6 1409.9,759.3 1411.2,761.9 1412.5,764.6 1413.6,767.3"/><polyline points="1369.4,851.9 1370,854.9 1370.5,857.8 1371,860.8 1371.4,863.8 1371.7,866.8 1372,869.8 1372.2,872.8 1372.4,875.8 1372.4,878.8 1372.4,881.7"/><polyline points="1294.6,940.3 1293.7,943.2 1292.8,946 1291.7,948.9 1290.6,951.7 1289.5,954.5 1288.3,957.2 1287,959.9 1285.7,962.6 1284.3,965.2 1282.8,967.8"/><polyline points="1188.2,982.9 1186.2,985.2 1184.1,987.4 1182.1,989.6 1179.9,991.8 1177.8,993.9 1175.6,996 1173.4,998 1171.2,1000 1168.9,1001.9 1166.6,1003.8"/><polyline points="1068.4,991.2 1065.9,993 1063.4,994.8 1060.9,996.6 1058.4,998.4 1055.9,1000.1 1053.4,1001.8 1050.9,1003.5 1048.4,1005.1 1045.9,1006.6 1043.4,1008.1"/><polyline points="948.4,990.4 945.9,992.3 943.4,994.1 940.9,995.9 938.4,997.7 935.9,999.5 933.4,1001.2 930.9,1002.8 928.4,1004.5 925.9,1006 923.4,1007.6"/><polyline points="828.4,989.7 825.9,991.5 823.4,993.4 820.9,995.2 818.4,997 815.9,998.8 813.4,1000.5 810.9,1002.2 808.4,1003.8 805.9,1005.4 803.4,1007"/><polyline points="705.9,990.8 703.4,992.7 700.9,994.5 698.4,996.3 695.9,998.1 693.4,999.8 690.9,1001.5 688.4,1003.2 685.9,1004.8 683.4,1006.4 680.9,1007.9"/><polyline points="585.9,990.1 583.4,991.9 580.9,993.8 578.4,995.6 575.9,997.4 573.4,999.1 570.9,1000.8 568.4,1002.5 565.9,1004.2 563.4,1005.7 560.9,1007.3"/><polyline points="463.4,991.2 460.9,993 458.4,994.9 455.9,996.7 453.4,998.4 450.9,1000.2 448.4,1001.9 445.9,1003.5 443.4,1005.1 440.9,1006.7 438.4,1008.2"/><polyline points="343.4,990.5 340.9,992.3 338.4,994.1 335.9,996 333.4,997.7 330.9,999.5 328.4,1001.2 325.9,1002.9 323.4,1004.5 320.9,1006.1 318.4,1007.6"/><polyline points="223.4,989.7 220.9,991.6 218.4,993.4 215.9,995.2 213.4,997 210.9,998.8 208.4,1000.5 205.9,1002.2 203.4,1003.9 200.9,1005.5 198.4,1007"/><polyline points="100.9,990.8 98.4,992.7 95.9,994.5 93.4,996.3 90.9,998.1 88.4,999.8 85.9,1001.6 83.4,1003.2 80.9,1004.8 78.4,1006.4 75.9,1007.9"/></g>
<g stroke="#e04a18" stroke-width="1.6"><polyline points="5,446.5 7.5,446.9 10,447.4 12.5,447.7 15,448.1 17.5,448.4 20,448.6 22.5,448.7 25,448.7 27.5,448.7 30,448.6 32.5,448.4 35,448.1 37.5,447.7 40,447.4 42.5,446.9 45,446.5"/><polyline points="125,446.5 127.5,446.9 130,447.4 132.5,447.7 135,448.1 137.5,448.4 140,448.6 142.5,448.7 145,448.7 147.5,448.7 150,448.6 152.5,448.4 155,448.1 157.5,447.7 160,447.4 162.5,446.9 165,446.5"/><polyline points="245,446.5 247.5,446.9 250,447.4 252.5,447.7 255,448.1 257.5,448.4 260,448.6 262.5,448.7 265,448.7 267.5,448.7 270,448.6 272.5,448.4 275,448.1 277.5,447.7 280,447.4 282.5,446.9 285,446.5"/><polyline points="367.5,446.5 370,446.9 372.5,447.4 375,447.7 377.5,448.1 380,448.4 382.5,448.6 385,448.7 387.5,448.7 390,448.7 392.5,448.6 395,448.4 397.5,448.1 400,447.7 402.5,447.4 405,446.9 407.5,446.5"/><polyline points="487.5,446.5 490,446.9 492.5,447.4 495,447.7 497.5,448.1 500,448.4 502.5,448.6 505,448.7 507.5,448.7 510,448.7 512.5,448.6 515,448.4 517.5,448.1 520,447.7 522.5,447.4 525,446.9 527.5,446.5"/><polyline points="610,446.5 612.5,446.9 615,447.4 617.5,447.7 620,448.1 622.5,448.4 625,448.6 627.5,448.7 630,448.7 632.5,448.7 635,448.6 637.5,448.4 640,448.1 642.5,447.7 645,447.4 647.5,446.9 650,446.5"/><polyline points="730,446.5 732.5,446.9 735,447.4 737.5,447.7 740,448.1 742.5,448.4 745,448.6 747.5,448.7 750,448.7 752.5,448.7 755,448.6 757.5,448.4 760,448.1 762.5,447.7 765,447.4 767.5,446.9 770,446.5"/><polyline points="850,446.5 852.5,446.9 855,447.4 857.5,447.7 860,448.1 862.5,448.4 865,448.6 867.5,448.7 870,448.7 872.5,448.7 875,448.6 877.5,448.4 880,448.1 882.5,447.7 885,447.4 887.5,446.9 890,446.5"/><polyline points="972.5,446.5 975,446.9 977.5,447.4 980,447.7 982.5,448.1 985,448.4 987.5,448.6 990,448.7 992.5,448.7 995,448.7 997.5,448.6 1000,448.4 1002.5,448.1 1005,447.7 1007.5,447.4 1010,446.9 1012.5,446.5"/><polyline points="1092.5,446.5 1095,446.9 1097.5,447.4 1100,447.7 1102.5,448.1 1105,448.4 1107.5,448.6 1109.9,448.7 1112.4,448.8 1114.8,448.7 1117.2,448.6 1119.7,448.5 1122.1,448.2 1124.5,448 1126.9,447.7 1129.4,447.3 1131.8,447"/><polyline points="1210.3,458.8 1212.4,459.9 1214.6,461 1216.8,462 1219,463 1221.2,464 1223.4,464.9 1225.6,465.7 1227.8,466.5 1230.1,467.3 1232.3,467.9 1234.6,468.5 1236.9,469.1 1239.3,469.6 1241.6,470.1 1244,470.6 1246.4,471.1"/><polyline points="1310.7,510.3 1312.2,512.2 1313.7,514 1315.2,515.9 1316.7,517.7 1318.2,519.5 1319.7,521.3 1321.3,523 1322.9,524.7 1324.6,526.3 1326.3,527.9 1328,529.5 1329.8,531 1331.7,532.5 1333.5,534 1335.4,535.5 1337.2,537"/><polyline points="1375.7,601.7 1376.2,604.1 1376.7,606.4 1377.1,608.8 1377.6,611.1 1378.2,613.4 1378.7,615.7 1379.4,618 1380.1,620.3 1380.8,622.5 1381.7,624.7 1382.5,626.9 1383.5,629.1 1384.4,631.3 1385.4,633.5 1386.4,635.7 1387.5,637.9"/><polyline points="1396.9,716.2 1396.4,718.6 1396,721 1395.6,723.4 1395.2,725.8 1394.8,728.2 1394.5,730.6 1394.3,732.9 1394.2,735.3 1394.1,737.7 1394,740.1 1394.1,742.5 1394.2,744.9 1394.3,747.3 1394.5,749.7 1394.7,752.1 1394.8,754.6"/><polyline points="1377.1,828.6 1375.8,830.7 1374.5,832.7 1373.3,834.7 1372.1,836.8 1370.9,838.8 1369.7,840.9 1368.6,843 1367.6,845.1 1366.6,847.2 1365.7,849.4 1364.8,851.6 1364,853.8 1363.2,856 1362.4,858.3 1361.6,860.5 1360.8,862.8"/><polyline points="1311.7,922.6 1309.7,923.8 1307.6,925 1305.5,926.2 1303.5,927.4 1301.5,928.6 1299.5,929.9 1297.6,931.2 1295.7,932.5 1293.8,933.9 1292,935.4 1290.2,936.9 1288.4,938.4 1286.6,940 1284.8,941.6 1283.1,943.2 1281.3,944.9"/><polyline points="1211.6,974.6 1209.2,974.8 1206.7,975 1204.3,975.2 1201.9,975.5 1199.6,975.7 1197.2,976.1 1194.8,976.5 1192.5,976.9 1190.2,977.5 1187.8,978 1185.5,978.7 1183.2,979.4 1180.9,980.2 1178.6,981 1176.3,981.8 1174,982.6"/><polyline points="1096.4,987.3 1093.9,986.9 1091.4,986.4 1088.9,986.1 1086.4,985.7 1083.9,985.4 1081.4,985.2 1078.9,985.1 1076.4,985.1 1073.9,985.1 1071.4,985.2 1068.9,985.4 1066.4,985.7 1063.9,986.1 1061.4,986.4 1058.9,986.9 1056.4,987.3"/><polyline points="973.9,987.3 971.4,986.9 968.9,986.4 966.4,986.1 963.9,985.7 961.4,985.4 958.9,985.2 956.4,985.1 953.9,985.1 951.4,985.1 948.9,985.2 946.4,985.4 943.9,985.7 941.4,986.1 938.9,986.4 936.4,986.9 933.9,987.3"/><polyline points="853.9,987.3 851.4,986.9 848.9,986.4 846.4,986.1 843.9,985.7 841.4,985.4 838.9,985.2 836.4,985.1 833.9,985.1 831.4,985.1 828.9,985.2 826.4,985.4 823.9,985.7 821.4,986.1 818.9,986.4 816.4,986.9 813.9,987.3"/><polyline points="731.4,987.3 728.9,986.9 726.4,986.4 723.9,986.1 721.4,985.7 718.9,985.4 716.4,985.2 713.9,985.1 711.4,985.1 708.9,985.1 706.4,985.2 703.9,985.4 701.4,985.7 698.9,986.1 696.4,986.4 693.9,986.9 691.4,987.3"/><polyline points="611.4,987.3 608.9,986.9 606.4,986.4 603.9,986.1 601.4,985.7 598.9,985.4 596.4,985.2 593.9,985.1 591.4,985.1 588.9,985.1 586.4,985.2 583.9,985.4 581.4,985.7 578.9,986.1 576.4,986.4 573.9,986.9 571.4,987.3"/><polyline points="491.4,987.3 488.9,986.9 486.4,986.4 483.9,986.1 481.4,985.7 478.9,985.4 476.4,985.2 473.9,985.1 471.4,985.1 468.9,985.1 466.4,985.2 463.9,985.4 461.4,985.7 458.9,986.1 456.4,986.4 453.9,986.9 451.4,987.3"/><polyline points="368.9,987.3 366.4,986.9 363.9,986.4 361.4,986.1 358.9,985.7 356.4,985.4 353.9,985.2 351.4,985.1 348.9,985.1 346.4,985.1 343.9,985.2 341.4,985.4 338.9,985.7 336.4,986.1 333.9,986.4 331.4,986.9 328.9,987.3"/><polyline points="248.9,987.3 246.4,986.9 243.9,986.4 241.4,986.1 238.9,985.7 236.4,985.4 233.9,985.2 231.4,985.1 228.9,985.1 226.4,985.1 223.9,985.2 221.4,985.4 218.9,985.7 216.4,986.1 213.9,986.4 211.4,986.9 208.9,987.3"/><polyline points="126.4,987.3 123.9,986.9 121.4,986.4 118.9,986.1 116.4,985.7 113.9,985.4 111.4,985.2 108.9,985.1 106.4,985.1 103.9,985.1 101.4,985.2 98.9,985.4 96.4,985.7 93.9,986.1 91.4,986.4 88.9,986.9 86.4,987.3"/><polyline points="6.4,987.3 3.9,986.9 1.4,986.4 -1.1,986.1 -3.6,985.7 -6.1,985.4 -8.6,985.2 -11.1,985.1 -13.6,985.1 -16.1,985.1 -18.6,985.2 -18.6,985.4"/></g>
<g stroke="#8a2206" stroke-width="1.6" stroke-opacity="0.55"><polyline points="-16.6,421.9 -14.1,423.2 -11.6,424.6 -9.1,426.1 -6.6,427.6 -4.1,429.1 -1.6,430.8 0.9,432.4 3.4,434.1 5.9,435.9 8.4,437.7 10.9,439.5 13.4,441.3 15.9,443.1 18.4,445"/><polyline points="103.4,421.4 105.9,422.7 108.4,424 110.9,425.5 113.4,427 115.9,428.5 118.4,430.1 120.9,431.8 123.4,433.4 125.9,435.2 128.4,436.9 130.9,438.7 133.4,440.6 135.9,442.4 138.4,444.3"/><polyline points="225.9,422.1 228.4,423.5 230.9,424.9 233.4,426.4 235.9,427.9 238.4,429.5 240.9,431.1 243.4,432.8 245.9,434.5 248.4,436.2 250.9,438 253.4,439.8 255.9,441.7 258.4,443.5"/><polyline points="345.9,421.6 348.4,423 350.9,424.3 353.4,425.8 355.9,427.3 358.4,428.8 360.9,430.4 363.4,432.1 365.9,433.8 368.4,435.5 370.9,437.3 373.4,439.1 375.9,441 378.4,442.8 380.9,444.7"/><polyline points="468.4,422.4 470.9,423.8 473.4,425.2 475.9,426.7 478.4,428.2 480.9,429.8 483.4,431.4 485.9,433.1 488.4,434.9 490.9,436.6 493.4,438.4 495.9,440.2 498.4,442.1 500.9,443.9"/><polyline points="588.4,421.9 590.9,423.2 593.4,424.6 595.9,426.1 598.4,427.6 600.9,429.2 603.4,430.8 605.9,432.5 608.4,434.2 610.9,435.9 613.4,437.7 615.9,439.5 618.4,441.3 620.9,443.2 623.4,445"/><polyline points="708.4,421.4 710.9,422.7 713.4,424.1 715.9,425.5 718.4,427 720.9,428.5 723.4,430.1 725.9,431.8 728.4,433.5 730.9,435.2 733.4,437 735.9,438.8 738.4,440.6 740.9,442.5 743.4,444.3"/><polyline points="830.9,422.2 833.4,423.5 835.9,424.9 838.4,426.4 840.9,427.9 843.4,429.5 845.9,431.1 848.4,432.8 850.9,434.5 853.4,436.3 855.9,438.1 858.4,439.9 860.9,441.7 863.4,443.6"/><polyline points="950.9,421.7 953.4,423 955.9,424.4 958.4,425.8 960.9,427.3 963.4,428.9 965.9,430.5 968.4,432.1 970.9,433.8 973.4,435.6 975.9,437.4 978.4,439.2 980.9,441 983.4,442.8 985.9,444.7"/><polyline points="1073.4,422.4 1075.9,423.8 1078.4,425.2 1080.9,426.7 1083.4,428.2 1085.9,429.8 1088.4,431.5 1090.9,433.2 1093.4,434.9 1095.9,436.7 1098.4,438.4 1100.9,440.3 1103.4,442.1 1105.9,444"/><polyline points="1195,430 1197.3,431.8 1199.5,433.7 1201.7,435.7 1203.8,437.8 1205.9,439.9 1207.9,442 1209.9,444.3 1211.9,446.6 1213.9,448.9 1215.7,451.3 1217.6,453.7 1219.4,456.1 1221.2,458.6 1222.9,461.1"/><polyline points="1309.3,477.4 1310.6,480 1311.9,482.6 1313.1,485.3 1314.2,488 1315.2,490.8 1316.2,493.6 1317.1,496.5 1317.9,499.4 1318.7,502.3 1319.4,505.2 1320,508.2 1320.6,511.2 1321.1,514.2 1321.5,517.1"/><polyline points="1390.2,574.5 1390.1,577.5 1390,580.4 1389.7,583.3 1389.3,586.3 1388.9,589.2 1388.4,592.2 1387.8,595.1 1387.1,598.1 1386.4,601 1385.6,603.9 1384.8,606.8 1383.9,609.7 1382.9,612.6"/><polyline points="1421,694 1419.8,696.6 1418.6,699.2 1417.2,701.8 1415.8,704.4 1414.3,707 1412.8,709.6 1411.2,712.1 1409.5,714.6 1407.8,717.1 1406,719.5 1404.1,722 1402.3,724.4 1400.4,726.8 1398.4,729.1"/><polyline points="1406,818.7 1403.9,820.7 1401.8,822.7 1399.6,824.7 1397.3,826.6 1394.9,828.4 1392.5,830.2 1390.1,831.9 1387.6,833.6 1385,835.3 1382.4,836.8 1379.8,838.4 1377.2,839.9 1374.5,841.3"/><polyline points="1344.1,925.8 1341.3,926.7 1338.5,927.5 1335.7,928.3 1332.8,929 1329.9,929.6 1326.9,930.1 1324,930.5 1321,930.9 1318,931.2 1314.9,931.4 1311.9,931.5 1308.9,931.6 1305.9,931.7"/><polyline points="1239.5,992.1 1236.6,991.7 1233.8,991.2 1230.9,990.7 1228,990 1225.1,989.3 1222.3,988.5 1219.4,987.6 1216.6,986.6 1213.7,985.6 1210.9,984.6 1208,983.4 1205.2,982.3 1202.4,981 1199.7,979.8"/><polyline points="1115.6,1011.5 1113.1,1010.2 1110.5,1008.8 1108,1007.3 1105.5,1005.8 1103,1004.2 1100.5,1002.6 1098,1000.9 1095.5,999.2 1093,997.4 1090.5,995.7 1088,993.8 1085.5,992 1083,990.1"/><polyline points="995.5,1012.1 993,1010.8 990.5,1009.4 988,1007.9 985.5,1006.4 983,1004.9 980.5,1003.2 978,1001.6 975.5,999.9 973,998.1 970.5,996.4 968,994.6 965.5,992.7 963,990.9 960.5,989"/><polyline points="873,1011.3 870.5,1009.9 868,1008.5 865.5,1007 863,1005.5 860.5,1003.9 858,1002.2 855.5,1000.6 853,998.8 850.5,997.1 848,995.3 845.5,993.5 843,991.6 840.5,989.8"/><polyline points="753,1011.8 750.5,1010.5 748,1009.1 745.5,1007.6 743,1006.1 740.5,1004.5 738,1002.9 735.5,1001.2 733,999.5 730.5,997.8 728,996 725.5,994.2 723,992.3 720.5,990.5"/><polyline points="633,1012.3 630.5,1011 628,1009.6 625.5,1008.2 623,1006.7 620.5,1005.2 618,1003.6 615.5,1001.9 613,1000.2 610.5,998.5 608,996.7 605.5,994.9 603,993.1 600.5,991.2 598,989.4"/><polyline points="510.5,1011.5 508,1010.2 505.5,1008.8 503,1007.3 500.5,1005.8 498,1004.2 495.5,1002.6 493,1000.9 490.5,999.2 488,997.4 485.5,995.6 483,993.8 480.5,992 478,990.1"/><polyline points="390.5,1012.1 388,1010.7 385.5,1009.3 383,1007.9 380.5,1006.4 378,1004.8 375.5,1003.2 373,1001.6 370.5,999.8 368,998.1 365.5,996.3 363,994.5 360.5,992.7 358,990.8 355.5,989"/><polyline points="268,1011.3 265.5,1009.9 263,1008.5 260.5,1007 258,1005.5 255.5,1003.9 253,1002.2 250.5,1000.5 248,998.8 245.5,997 243,995.2 240.5,993.4 238,991.6 235.5,989.7"/><polyline points="148,1011.8 145.5,1010.4 143,1009 140.5,1007.6 138,1006.1 135.5,1004.5 133,1002.9 130.5,1001.2 128,999.5 125.5,997.7 123,995.9 120.5,994.1 118,992.3 115.5,990.5"/><polyline points="28,1012.3 25.5,1011 23,1009.6 20.5,1008.2 18,1006.7 15.5,1005.1 13,1003.5 10.5,1001.9 8,1000.2 5.5,998.4 3,996.7 0.5,994.9 -2,993 -4.5,991.2 -7,989.3"/></g>
<polyline points="-20,418.6 -17.5,419.9 -15,421.2 -12.5,422.6 -10,424.1 -7.5,425.7 -5,427.3 -2.5,428.9 0,430.6 2.5,432.4 5,434.2 7.5,436.1 10,438 12.5,439.9 15,441.8 17.5,443.8 20,445.8 22.5,449.6 25,445.8 27.5,443.8 30,441.8 32.5,439.9 35,438 37.5,436.1 40,434.2 42.5,432.4 45,430.7 47.5,428.9 50,427.3 52.5,425.7 55,424.1 57.5,422.7 60,421.2 62.5,419.9 65,418.6 67.5,417.4 70,416.2 72.5,415.3 75,414.8 77.5,414.7 80,415.2 82.5,416 85,417.2 87.5,417.1 90,416.4 92.5,416.2 95,416.4 97.5,417.1 100,418.1 102.5,419.4 105,420.7 107.5,422.1 110,423.5 112.5,425 115,426.6 117.5,428.3 120,430 122.5,431.7 125,433.5 127.5,435.3 130,437.2 132.5,439.1 135,441.1 137.5,443 140,445 142.5,446.9 145,446.5 147.5,444.6 150,442.6 152.5,440.7 155,438.7 157.5,436.8 160,435 162.5,433.1 165,431.3 167.5,429.6 170,427.9 172.5,426.3 175,424.7 177.5,423.2 180,421.8 182.5,420.4 185,419.1 187.5,417.9 190,416.7 192.5,415.6 195,414.9 197.5,414.7 200,414.9 202.5,415.7 205,416.7 207.5,417.5 210,416.7 212.5,416.2 215,416.3 217.5,416.8 220,417.7 222.5,418.9 225,420.2 227.5,421.5 230,422.9 232.5,424.4 235,426 237.5,427.6 240,429.3 242.5,431 245,432.8 247.5,434.6 250,436.5 252.5,438.4 255,440.3 257.5,442.2 260,444.2 262.5,446.2 265,447.3 267.5,445.3 270,443.4 272.5,441.4 275,439.5 277.5,437.6 280,435.7 282.5,433.9 285,432.1 287.5,430.3 290,428.6 292.5,426.9 295,425.3 297.5,423.8 300,422.4 302.5,421 305,419.6 307.5,418.4 310,417.2 312.5,416 315,415.2 317.5,414.7 320,414.8 322.5,415.3 325,416.3 327.5,417.4 330,417 332.5,416.3 335,416.2 337.5,416.6 340,417.3 342.5,418.4 345,419.7 347.5,421 350,422.4 352.5,423.8 355,425.4 357.5,427 360,428.6 362.5,430.3 365,432.1 367.5,433.9 370,435.7 372.5,437.6 375,439.5 377.5,441.5 380,443.4 382.5,445.4 385,447.5 387.5,446.1 390,444.2 392.5,442.2 395,440.3 397.5,438.3 400,436.4 402.5,434.6 405,432.8 407.5,431 410,429.3 412.5,427.6 415,426 417.5,424.4 420,422.9 422.5,421.5 425,420.1 427.5,418.9 430,417.6 432.5,416.5 435,415.5 437.5,414.8 440,414.7 442.5,415.1 445,415.8 447.5,416.9 450,417.3 452.5,416.5 455,416.2 457.5,416.4 460,417 462.5,417.9 465,419.1 467.5,420.4 470,421.8 472.5,423.3 475,424.8 477.5,426.3 480,428 482.5,429.6 485,431.4 487.5,433.2 490,435 492.5,436.9 495,438.8 497.5,440.7 500,442.6 502.5,444.6 505,446.6 507.5,446.9 510,444.9 512.5,443 515,441 517.5,439.1 520,437.2 522.5,435.3 525,433.5 527.5,431.7 530,429.9 532.5,428.2 535,426.6 537.5,425 540,423.5 542.5,422.1 545,420.7 547.5,419.4 550,418.1 552.5,416.9 555,415.8 557.5,415 560,414.7 562.5,414.9 565,415.5 567.5,416.5 570,417.6 572.5,416.8 575,416.3 577.5,416.2 580,416.7 582.5,417.5 585,418.6 587.5,419.9 590,421.3 592.5,422.7 595,424.2 597.5,425.7 600,427.3 602.5,429 605,430.7 607.5,432.5 610,434.3 612.5,436.1 615,438 617.5,439.9 620,441.9 622.5,443.8 625,445.8 627.5,449.5 630,445.7 632.5,443.7 635,441.8 637.5,439.9 640,437.9 642.5,436 645,434.2 647.5,432.4 650,430.6 652.5,428.9 655,427.2 657.5,425.6 660,424.1 662.5,422.6 665,421.2 667.5,419.9 670,418.6 672.5,417.4 675,416.2 677.5,415.3 680,414.8 682.5,414.7 685,415.2 687.5,416.1 690,417.2 692.5,417.1 695,416.4 697.5,416.2 700,416.4 702.5,417.2 705,418.2 707.5,419.4 710,420.7 712.5,422.1 715,423.6 717.5,425.1 720,426.7 722.5,428.3 725,430 727.5,431.7 730,433.5 732.5,435.4 735,437.3 737.5,439.2 740,441.1 742.5,443 745,445 747.5,447 750,446.5 752.5,444.5 755,442.6 757.5,440.6 760,438.7 762.5,436.8 765,434.9 767.5,433.1 770,431.3 772.5,429.6 775,427.9 777.5,426.3 780,424.7 782.5,423.2 785,421.8 787.5,420.4 790,419.1 792.5,417.9 795,416.7 797.5,415.6 800,414.9 802.5,414.7 805,415 807.5,415.7 810,416.7 812.5,417.5 815,416.7 817.5,416.2 820,416.3 822.5,416.8 825,417.7 827.5,418.9 830,420.2 832.5,421.6 835,423 837.5,424.5 840,426 842.5,427.6 845,429.3 847.5,431.1 850,432.8 852.5,434.6 855,436.5 857.5,438.4 860,440.3 862.5,442.3 865,444.2 867.5,446.2 870,447.3 872.5,445.3 875,443.3 877.5,441.4 880,439.4 882.5,437.5 885,435.7 887.5,433.8 890,432 892.5,430.3 895,428.6 897.5,426.9 900,425.3 902.5,423.8 905,422.3 907.5,420.9 910,419.6 912.5,418.3 915,417.1 917.5,416 920,415.2 922.5,414.7 925,414.8 927.5,415.3 930,416.3 932.5,417.5 935,416.9 937.5,416.3 940,416.2 942.5,416.6 945,417.3 947.5,418.4 950,419.7 952.5,421 955,422.4 957.5,423.9 960,425.4 962.5,427 965,428.7 967.5,430.4 970,432.1 972.5,433.9 975,435.8 977.5,437.7 980,439.6 982.5,441.5 985,443.5 987.5,445.4 990,447.9 992.5,446.1 995,444.1 997.5,442.2 1000,440.2 1002.5,438.3 1005,436.4 1007.5,434.5 1010,432.7 1012.5,430.9 1015,429.2 1017.5,427.5 1020,425.9 1022.5,424.4 1025,422.9 1027.5,421.5 1030,420.1 1032.5,418.8 1035,417.6 1037.5,416.4 1040,415.4 1042.5,414.8 1045,414.7 1047.5,415.1 1050,415.9 1052.5,417 1055,417.3 1057.5,416.5 1060,416.2 1062.5,416.4 1065,417 1067.5,417.9 1070,419.2 1072.5,420.5 1075,421.8 1077.5,423.3 1080,424.8 1082.5,426.4 1085,428 1087.5,429.7 1090,431.4 1092.5,433.2 1095,435 1097.5,436.9 1100,438.8 1102.5,440.7 1105,442.7 1107.5,444.6 1110,446.6 1112.4,446.9 1114.9,444.9 1117.3,443 1119.8,441.1 1122.3,439.2 1124.9,437.4 1127.4,435.6 1130,433.9 1132.5,432.2 1135.1,430.6 1137.7,429 1140.4,427.5 1143,426.1 1145.7,424.8 1148.3,423.6 1151,422.4 1153.7,421.3 1156.4,420.4 1159.1,419.4 1161.8,418.6 1164.4,418.2 1167.1,418.1 1169.6,418.6 1172.1,419.6 1174.6,421 1177,422.5 1179.7,422 1182.4,421.9 1184.9,422.3 1187.4,423.2 1189.8,424.5 1192.2,426.1 1194.5,427.9 1196.7,429.7 1199,431.6 1201.1,433.6 1203.3,435.7 1205.4,437.8 1207.5,440.1 1209.5,442.3 1211.5,444.7 1213.4,447.1 1215.3,449.5 1217.2,452 1219,454.5 1220.8,457.1 1222.5,459.7 1224.2,462.3 1225.3,466.5 1228.8,463.6 1231.7,462.5 1234.6,461.5 1237.6,460.5 1240.5,459.6 1243.5,458.7 1246.5,457.9 1249.5,457.1 1252.5,456.4 1255.5,455.8 1258.5,455.3 1261.5,454.9 1264.4,454.6 1267.4,454.3 1270.3,454.2 1273.3,454.1 1276.2,454.1 1279.1,454.3 1282,454.5 1284.8,454.9 1287.3,455.7 1289.7,457 1291.8,458.8 1293.6,460.9 1295.3,463.2 1297.6,464.5 1300.2,465.3 1302.6,466.5 1304.7,468.2 1306.5,470.3 1308.1,472.6 1309.6,475.2 1310.9,477.8 1312.2,480.4 1313.5,483.1 1314.6,485.9 1315.6,488.7 1316.6,491.6 1317.5,494.5 1318.3,497.5 1319.1,500.5 1319.8,503.5 1320.4,506.5 1320.9,509.6 1321.4,512.6 1321.8,515.7 1322.2,518.8 1322.5,521.8 1324.5,523.1 1327.6,523.4 1330.7,523.7 1333.7,524.2 1336.8,524.6 1339.9,525.2 1342.9,525.8 1345.9,526.5 1348.9,527.2 1351.8,528.1 1354.7,529 1357.6,530 1360.4,531 1363.2,532.2 1365.9,533.4 1368.5,534.7 1371.1,536.1 1373.6,537.6 1376.1,539.1 1378.5,540.7 1380.5,542.6 1382.1,544.7 1383.3,547.1 1384.1,549.8 1384.6,552.6 1385.3,555.2 1387.3,557.1 1389,559.2 1390.2,561.6 1391,564.2 1391.4,567 1391.5,569.9 1391.5,572.8 1391.5,575.7 1391.3,578.7 1391,581.7 1390.7,584.6 1390.2,587.6 1389.7,590.6 1389.1,593.6 1388.4,596.6 1387.6,599.6 1386.8,602.6 1385.8,605.5 1384.9,608.5 1383.9,611.4 1382.8,614.3 1381.7,617.2 1381.5,619.8 1384.1,621.5 1386.7,623.2 1389.3,624.9 1391.8,626.7 1394.3,628.6 1396.8,630.4 1399.2,632.4 1401.6,634.4 1403.9,636.4 1406.1,638.4 1408.3,640.5 1410.4,642.7 1412.4,644.9 1414.3,647.1 1416.2,649.4 1418,651.7 1419.7,654 1421.3,656.4 1422.9,658.8 1424.1,661.3 1424.9,663.8 1425.2,666.4 1425,669.1 1424.4,671.8 1423.5,674.6 1424.4,677.1 1425.2,679.6 1425.6,682.2 1425.5,684.9 1424.9,687.5 1424,690.2 1422.9,692.9 1421.7,695.5 1420.5,698.2 1419.1,700.8 1417.7,703.4 1416.2,706 1414.6,708.6 1412.9,711.2 1411.2,713.7 1409.4,716.2 1407.6,718.7 1405.7,721.1 1403.7,723.6 1401.7,726 1399.7,728.3 1397.6,730.7 1394.8,733 1396.8,735.5 1398.7,738 1400.5,740.5 1402.2,743.1 1404,745.7 1405.7,748.3 1407.3,750.9 1408.8,753.6 1410.3,756.3 1411.8,759 1413.1,761.7 1414.4,764.4 1415.6,767.2 1416.7,769.9 1417.7,772.7 1418.6,775.4 1419.5,778.2 1420.2,781 1420.9,783.8 1421.4,786.6 1421.4,789.3 1421,791.9 1420.1,794.4 1418.7,796.8 1417.1,799.1 1416.2,801.6 1416.3,804.3 1415.9,806.9 1415.1,809.4 1413.7,811.8 1412.1,814.1 1410.2,816.2 1408.2,818.3 1406.1,820.4 1403.9,822.4 1401.7,824.4 1399.4,826.3 1397,828.2 1394.5,830 1392,831.7 1389.5,833.4 1386.8,835.1 1384.2,836.6 1381.5,838.2 1378.8,839.7 1376,841.1 1373.2,842.5 1370.5,843.8 1369.3,845.9 1370.1,848.9 1370.8,851.9 1371.4,854.9 1372,858 1372.6,861 1373,864.1 1373.4,867.2 1373.8,870.2 1374,873.3 1374.2,876.3 1374.3,879.3 1374.3,882.4 1374.1,885.4 1374,888.3 1373.7,891.3 1373.3,894.2 1372.8,897 1372.2,899.9 1371.6,902.7 1370.6,905.3 1369.2,907.6 1367.5,909.7 1365.3,911.4 1362.8,912.8 1360.3,914.2 1359.2,916.8 1357.9,919.1 1356.2,921.1 1354,922.8 1351.6,924.2 1349,925.4 1346.2,926.4 1343.4,927.4 1340.6,928.2 1337.7,929 1334.8,929.7 1331.8,930.3 1328.8,930.8 1325.8,931.2 1322.8,931.6 1319.7,931.8 1316.6,932 1313.5,932.2 1310.4,932.2 1307.3,932.2 1304.2,932.1 1301.1,932 1297.2,930.7 1297.5,935 1296.7,938 1295.9,941 1295,944 1294.1,946.9 1293.1,949.9 1292,952.8 1290.8,955.6 1289.6,958.5 1288.4,961.2 1287,964 1285.6,966.6 1284.1,969.2 1282.6,971.8 1281,974.3 1279.3,976.7 1277.5,979 1275.7,981.3 1273.9,983.5 1271.9,985.4 1269.7,987 1267.3,988.2 1264.7,988.8 1261.9,989.1 1259,989.1 1256.6,990.2 1254.5,991.9 1252.1,993.1 1249.5,993.7 1246.8,994 1244,993.9 1241.1,993.7 1238.2,993.3 1235.3,992.8 1232.4,992.2 1229.5,991.6 1226.6,990.8 1223.7,990 1220.8,989.1 1217.9,988.1 1215,987 1212.1,985.9 1209.2,984.7 1206.4,983.5 1203.6,982.2 1200.7,980.8 1198,979.5 1195.2,978.1 1193,979.2 1191,981.6 1189,984 1187,986.4 1184.9,988.7 1182.9,991 1180.7,993.3 1178.6,995.5 1176.4,997.7 1174.2,999.8 1171.9,1001.8 1169.6,1003.7 1167.3,1005.6 1164.9,1007.4 1162.6,1009.1 1160.2,1010.8 1157.7,1012.4 1155.3,1013.8 1152.8,1015.3 1150.3,1016.5 1147.8,1017.4 1145.2,1017.8 1142.6,1017.7 1140,1017.2 1137.3,1016.3 1134.7,1015.8 1132.1,1016.7 1129.6,1017.2 1127,1017.2 1124.4,1016.7 1121.8,1015.9 1119.2,1014.7 1116.6,1013.5 1114,1012.2 1111.5,1010.7 1108.9,1009.3 1106.4,1007.7 1103.9,1006.1 1101.4,1004.4 1098.9,1002.7 1096.4,1000.9 1093.9,999.1 1091.4,997.2 1088.9,995.3 1086.4,993.4 1083.9,991.4 1081.4,989.5 1078.9,987.5 1076.4,986.6 1073.9,988.6 1071.4,990.5 1068.9,992.5 1066.4,994.4 1063.9,996.3 1061.4,998.2 1058.9,1000.1 1056.4,1001.9 1053.9,1003.6 1051.4,1005.3 1048.9,1007 1046.4,1008.6 1043.9,1010.1 1041.4,1011.5 1038.9,1012.9 1036.4,1014.3 1033.9,1015.5 1031.4,1016.7 1028.9,1017.8 1026.4,1018.7 1023.9,1019.1 1021.4,1019 1018.9,1018.4 1016.4,1017.5 1013.9,1016.3 1011.4,1016.9 1008.9,1017.5 1006.4,1017.6 1003.9,1017.2 1001.4,1016.4 998.9,1015.3 996.4,1014.1 993.9,1012.7 991.4,1011.3 988.9,1009.9 986.4,1008.3 983.9,1006.7 981.4,1005.1 978.9,1003.4 976.4,1001.6 973.9,999.8 971.4,997.9 968.9,996.1 966.4,994.2 963.9,992.2 961.4,990.3 958.9,988.3 956.4,985.2 953.9,987.8 951.4,989.8 948.9,991.7 946.4,993.7 943.9,995.6 941.4,997.5 938.9,999.3 936.4,1001.2 933.9,1002.9 931.4,1004.7 928.9,1006.3 926.4,1007.9 923.9,1009.5 921.4,1011 918.9,1012.4 916.4,1013.7 913.9,1015 911.4,1016.2 908.9,1017.4 906.4,1018.4 903.9,1019 901.4,1019.1 898.9,1018.7 896.4,1017.9 893.9,1016.8 891.4,1016.6 888.9,1017.3 886.4,1017.6 883.9,1017.4 881.4,1016.8 878.9,1015.8 876.4,1014.6 873.9,1013.3 871.4,1011.9 868.9,1010.4 866.4,1008.9 863.9,1007.4 861.4,1005.7 858.9,1004 856.4,1002.3 853.9,1000.5 851.4,998.7 848.9,996.8 846.4,994.9 843.9,993 841.4,991 838.9,989.1 836.4,987.1 833.9,987 831.4,989 828.9,991 826.4,992.9 823.9,994.8 821.4,996.7 818.9,998.6 816.4,1000.4 813.9,1002.2 811.4,1004 808.9,1005.7 806.4,1007.3 803.9,1008.9 801.4,1010.4 798.9,1011.8 796.4,1013.2 793.9,1014.5 791.4,1015.8 788.9,1017 786.4,1018 783.9,1018.8 781.4,1019.1 778.9,1018.9 776.4,1018.3 773.9,1017.2 771.4,1016.2 768.9,1017 766.4,1017.6 763.9,1017.6 761.4,1017.1 758.9,1016.2 756.4,1015.1 753.9,1013.8 751.4,1012.4 748.9,1011 746.4,1009.5 743.9,1008 741.4,1006.4 738.9,1004.7 736.4,1003 733.9,1001.2 731.4,999.4 728.9,997.6 726.4,995.7 723.9,993.7 721.4,991.8 718.9,989.8 716.4,987.9 713.9,984.7 711.4,988.2 708.9,990.2 706.4,992.1 703.9,994.1 701.4,996 698.9,997.9 696.4,999.7 693.9,1001.5 691.4,1003.3 688.9,1005 686.4,1006.7 683.9,1008.3 681.4,1009.8 678.9,1011.3 676.4,1012.7 673.9,1014 671.4,1015.3 668.9,1016.5 666.4,1017.6 663.9,1018.5 661.4,1019 658.9,1019 656.4,1018.6 653.9,1017.7 651.4,1016.5 648.9,1016.7 646.4,1017.4 643.9,1017.6 641.4,1017.3 638.9,1016.6 636.4,1015.6 633.9,1014.3 631.4,1013 628.9,1011.6 626.4,1010.1 623.9,1008.6 621.4,1007 618.9,1005.4 616.4,1003.7 613.9,1001.9 611.4,1000.1 608.9,998.3 606.4,996.4 603.9,994.5 601.4,992.6 598.9,990.6 596.4,988.7 593.9,986.7 591.4,987.4 588.9,989.4 586.4,991.4 583.9,993.3 581.4,995.2 578.9,997.1 576.4,999 573.9,1000.8 571.4,1002.6 568.9,1004.3 566.4,1006 563.9,1007.6 561.4,1009.2 558.9,1010.7 556.4,1012.1 553.9,1013.5 551.4,1014.8 548.9,1016 546.4,1017.2 543.9,1018.2 541.4,1018.9 538.9,1019.1 536.4,1018.8 533.9,1018.1 531.4,1017 528.9,1016.4 526.4,1017.2 523.9,1017.6 521.4,1017.5 518.9,1016.9 516.4,1016 513.9,1014.8 511.4,1013.5 508.9,1012.2 506.4,1010.7 503.9,1009.2 501.4,1007.7 498.9,1006 496.4,1004.4 493.9,1002.6 491.4,1000.9 488.9,999 486.4,997.2 483.9,995.3 481.4,993.3 478.9,991.4 476.4,989.4 473.9,987.5 471.4,986.6 468.9,988.6 466.4,990.6 463.9,992.5 461.4,994.5 458.9,996.4 456.4,998.3 453.9,1000.1 451.4,1001.9 448.9,1003.7 446.4,1005.4 443.9,1007 441.4,1008.6 438.9,1010.1 436.4,1011.6 433.9,1013 431.4,1014.3 428.9,1015.5 426.4,1016.7 423.9,1017.9 421.4,1018.7 418.9,1019.1 416.4,1019 413.9,1018.4 411.4,1017.4 408.9,1016.3 406.4,1016.9 403.9,1017.5 401.4,1017.6 398.9,1017.2 396.4,1016.4 393.9,1015.3 391.4,1014 388.9,1012.7 386.4,1011.3 383.9,1009.8 381.4,1008.3 378.9,1006.7 376.4,1005 373.9,1003.3 371.4,1001.6 368.9,999.8 366.4,997.9 363.9,996 361.4,994.1 358.9,992.2 356.4,990.2 353.9,988.2 351.4,984.9 348.9,987.8 346.4,989.8 343.9,991.8 341.4,993.7 338.9,995.6 336.4,997.5 333.9,999.4 331.4,1001.2 328.9,1003 326.4,1004.7 323.9,1006.4 321.4,1008 318.9,1009.5 316.4,1011 313.9,1012.4 311.4,1013.8 308.9,1015 306.4,1016.3 303.9,1017.4 301.4,1018.4 298.9,1019 296.4,1019.1 293.9,1018.7 291.4,1017.9 288.9,1016.7 286.4,1016.6 283.9,1017.3 281.4,1017.6 278.9,1017.4 276.4,1016.7 273.9,1015.8 271.4,1014.5 268.9,1013.2 266.4,1011.9 263.9,1010.4 261.4,1008.9 258.9,1007.3 256.4,1005.7 253.9,1004 251.4,1002.3 248.9,1000.5 246.4,998.6 243.9,996.8 241.4,994.9 238.9,992.9 236.4,991 233.9,989 231.4,987.1 228.9,987.1 226.4,989 223.9,991 221.4,992.9 218.9,994.9 216.4,996.8 213.9,998.7 211.4,1000.5 208.9,1002.3 206.4,1004 203.9,1005.7 201.4,1007.3 198.9,1008.9 196.4,1010.4 193.9,1011.9 191.4,1013.2 188.9,1014.6 186.4,1015.8 183.9,1017 181.4,1018.1 178.9,1018.8 176.4,1019.1 173.9,1018.9 171.4,1018.2 168.9,1017.2 166.4,1016.2 163.9,1017.1 161.4,1017.6 158.9,1017.6 156.4,1017.1 153.9,1016.2 151.4,1015 148.9,1013.8 146.4,1012.4 143.9,1011 141.4,1009.5 138.9,1008 136.4,1006.4 133.9,1004.7 131.4,1003 128.9,1001.2 126.4,999.4 123.9,997.5 121.4,995.6 118.9,993.7 116.4,991.8 113.9,989.8 111.4,987.8 108.9,984.9 106.4,988.3 103.9,990.2 101.4,992.2 98.9,994.1 96.4,996 93.9,997.9 91.4,999.8 88.9,1001.6 86.4,1003.3 83.9,1005 81.4,1006.7 78.9,1008.3 76.4,1009.8 73.9,1011.3 71.4,1012.7 68.9,1014 66.4,1015.3 63.9,1016.5 61.4,1017.7 58.9,1018.6 56.4,1019 53.9,1019 51.4,1018.5 48.9,1017.7 46.4,1016.5 43.9,1016.8 41.4,1017.4 38.9,1017.6 36.4,1017.3 33.9,1016.6 31.4,1015.5 28.9,1014.3 26.4,1013 23.9,1011.6 21.4,1010.1 18.9,1008.6 16.4,1007 13.9,1005.4 11.4,1003.7 8.9,1001.9 6.4,1000.1 3.9,998.3 1.4,996.4 -1.1,994.5 -3.6,992.5 -6.1,990.6 -8.6,988.6 -11.1,986.6 -13.6,987.5 -16.1,989.4 -18.6,991.4" stroke="#dc4a16" stroke-width="2"/>
</g>
<defs>
<linearGradient id="cg2" x1="0" y1="0" x2="0" y2="1"><stop offset="0.000" stop-color="#f8805a"/><stop offset="0.050" stop-color="#fd8862"/><stop offset="0.220" stop-color="#ff8c68"/><stop offset="0.300" stop-color="#f2a08c"/><stop offset="0.380" stop-color="#f0a28e"/><stop offset="0.460" stop-color="#f68c68"/><stop offset="0.560" stop-color="#f87444"/><stop offset="0.660" stop-color="#ee5c1c"/><stop offset="0.740" stop-color="#dc4a04"/><stop offset="0.800" stop-color="#c03a00"/><stop offset="0.870" stop-color="#8c2a0c"/><stop offset="0.940" stop-color="#862c18"/><stop offset="1.000" stop-color="#8e3e34"/></linearGradient>
<linearGradient id="bx" x1="0" y1="0" x2="0" y2="1"><stop offset="0.000" stop-color="#f07850"/><stop offset="0.020" stop-color="#f48866"/><stop offset="0.100" stop-color="#f48662"/><stop offset="0.125" stop-color="#f88a64"/><stop offset="0.135" stop-color="#ffa482"/><stop offset="0.150" stop-color="#fc8052"/><stop offset="0.300" stop-color="#fd7b4c"/><stop offset="0.700" stop-color="#f97242"/><stop offset="0.970" stop-color="#f56a36"/><stop offset="1.000" stop-color="#e05a28"/></linearGradient>
<linearGradient id="cap" x1="0" y1="0" x2="0" y2="1"><stop offset="0.000" stop-color="#f27a50"/><stop offset="0.030" stop-color="#f6926e"/><stop offset="0.100" stop-color="#f68a62"/><stop offset="0.130" stop-color="#f9a07e"/><stop offset="0.160" stop-color="#f57c50"/><stop offset="0.500" stop-color="#f4703e"/><stop offset="0.970" stop-color="#f06832"/><stop offset="1.000" stop-color="#d85828"/></linearGradient>
<linearGradient id="gap" x1="0" y1="0" x2="0" y2="1"><stop offset="0.000" stop-color="#f07040"/><stop offset="0.080" stop-color="#ec5a20"/><stop offset="0.200" stop-color="#e84a10"/><stop offset="0.450" stop-color="#f04010"/><stop offset="0.500" stop-color="#f47040"/><stop offset="0.550" stop-color="#b82a04"/><stop offset="0.700" stop-color="#d83a08"/><stop offset="0.850" stop-color="#f04a18"/><stop offset="1.000" stop-color="#f8b0a0"/></linearGradient>
<linearGradient id="bl" x1="0" y1="0" x2="0" y2="1"><stop offset="0.000" stop-color="#3a70b0"/><stop offset="0.030" stop-color="#0e64b0"/><stop offset="0.100" stop-color="#0a6ab6"/><stop offset="0.130" stop-color="#2e74b8"/><stop offset="0.190" stop-color="#2a6eb4"/><stop offset="0.220" stop-color="#0a58a4"/><stop offset="0.300" stop-color="#034e9c"/><stop offset="0.850" stop-color="#024a96"/><stop offset="0.900" stop-color="#063a78"/><stop offset="0.950" stop-color="#0a2e5c"/><stop offset="1.000" stop-color="#1a3050"/></linearGradient>
<linearGradient id="clp" x1="0" y1="0" x2="0" y2="1"><stop offset="0.000" stop-color="#f48a62"/><stop offset="0.250" stop-color="#f6875c"/><stop offset="0.300" stop-color="#f37040"/><stop offset="1.000" stop-color="#f06a36"/></linearGradient>
</defs>
<polygon points="-10,1556 10,1556 30,1556 50,1556 70,1556 90,1556 110,1556 130,1556 150,1556 170,1556 190,1556 210,1556 230,1556 250,1556 270,1556 290,1556 310,1556 330,1556 350,1556 370,1556 390,1556 410,1556 430,1556 450,1556 470,1556 490,1556 510,1556 530,1556 550,1556 570,1556 590,1556 610,1556.1 630,1556.2 650,1556.4 670,1556.5 690,1556.7 710,1556.8 730,1557 750,1557.1 770,1557.2 790,1557.4 810,1557.5 830,1557.7 850,1557.8 870,1558 890,1558.1 910,1558.3 930,1558.4 950,1558.6 970,1558.7 990,1558.9 1010,1559 1010,1587 990,1586.9 970,1586.7 950,1586.6 930,1586.4 910,1586.3 890,1586.1 870,1586 850,1585.8 830,1585.7 810,1585.5 790,1585.4 770,1585.2 750,1585.1 730,1585 710,1584.8 690,1584.7 670,1584.5 650,1584.4 630,1584.2 610,1584.1 590,1584 570,1584 550,1584 530,1584 510,1584 490,1584 470,1584 450,1584 430,1584 410,1584 390,1584 370,1584 350,1584 330,1584 310,1584 290,1584 270,1584 250,1584 230,1584 210,1584 190,1584 170,1584 150,1584 130,1584 110,1584 90,1584 70,1584 50,1584 30,1584 10,1584 -10,1584" fill="url(#cg2)"/>
<defs><linearGradient id="fd" gradientUnits="userSpaceOnUse" x1="720" y1="0" x2="1000" y2="0"><stop offset="0" stop-color="#ea5c22" stop-opacity="0"/><stop offset="1" stop-color="#ea5c22" stop-opacity="0.85"/></linearGradient></defs>
<polygon points="710,1574.8 730,1575 750,1575.1 770,1575.2 790,1575.4 810,1575.5 830,1575.7 850,1575.8 870,1576 890,1576.1 910,1576.3 930,1576.4 950,1576.6 970,1576.7 990,1576.9 1010,1577 1010,1586.5 990,1586.4 970,1586.2 950,1586.1 930,1585.9 910,1585.8 890,1585.6 870,1585.5 850,1585.3 830,1585.2 810,1585 790,1584.9 770,1584.7 750,1584.6 730,1584.5 710,1584.3" fill="url(#fd)"/>
<path d="M493.6,1566.6 V1547.4 L500.6,1540.4 H539.0 Q541.0,1540.4 541.0,1544 V1566.6 Z" fill="url(#clp)"/>
<rect x="498.6" y="1540.4" width="40.4" height="7" fill="#f6906a" opacity="0.6"/>
<rect x="493.6" y="1564.6" width="45.4" height="2.4" fill="#c44a18" opacity="0.8"/>
<path d="M493.6,1580 H541.0 V1590 L535.0,1596.2 H493.6 Z" fill="#f26a36"/>
<rect x="493.6" y="1594.4" width="41.4" height="1.8" fill="#c85020" opacity="0.7"/>
<rect x="538.0" y="1544" width="3" height="22.6" fill="#d85420" opacity="0.6"/>
<path d="M561.0,1566.6 V1547.4 L568.0,1540.4 H611.6 Q613.6,1540.4 613.6,1544 V1566.6 Z" fill="url(#clp)"/>
<rect x="566.0" y="1540.4" width="45.6" height="7" fill="#f6906a" opacity="0.6"/>
<rect x="561.0" y="1564.6" width="50.6" height="2.4" fill="#c44a18" opacity="0.8"/>
<path d="M561.0,1580 H613.6 V1590 L607.6,1596.2 H561.0 Z" fill="#f26a36"/>
<rect x="561.0" y="1594.4" width="46.6" height="1.8" fill="#c85020" opacity="0.7"/>
<rect x="610.6" y="1544" width="3" height="22.6" fill="#d85420" opacity="0.6"/>
<rect x="541" y="1542" width="6" height="15" fill="#e04a12"/>
<path d="M544,1542 L549,1542 L552,1556 L547,1556 Z" fill="#a83206"/>
<rect x="558.5" y="1542" width="3" height="15" fill="#e85a20"/>
<rect x="541" y="1583" width="12" height="8" fill="#c23808"/>
<rect x="557.8" y="1583" width="4" height="8" fill="#c23808"/>
<rect x="1012" y="1631.5" width="562" height="5" fill="#3a0e04" opacity="0.7"/>
<rect x="1012" y="1636.5" width="562" height="6" fill="#2a1008" opacity="0.35"/>
<rect x="1019" y="1521" width="9.5" height="105" fill="url(#gap)"/>
<rect x="1041" y="1519" width="8.5" height="109" fill="url(#gap)"/>
<rect x="1006.3" y="1517.1" width="13.6" height="112.2" rx="3" fill="url(#cap)"/>
<rect x="1027.7" y="1514.8" width="13.9" height="115.7" rx="1.5" fill="url(#cap)"/>
<rect x="1528" y="1518" width="8" height="110" fill="url(#gap)"/>
<rect x="1549" y="1519" width="8.5" height="108" fill="url(#gap)"/>
<path d="M1535.3,1515 H1545 L1549.7,1519 V1630.5 H1535.3 Z" fill="url(#cap)"/>
<path d="M1557,1517.9 H1560 Q1566,1517.9 1570.7,1532.6 V1622 Q1570.7,1627.3 1565,1627.5 L1557,1628 Z" fill="url(#cap)"/>
<rect x="1048.5" y="1514" width="480.5" height="118.2" rx="1.5" fill="url(#bx)"/>
<rect x="1570.4" y="1540" width="440" height="67.6" fill="url(#bl)"/>
<rect x="1570.4" y="1546" width="3.2" height="56" fill="#0a1a30" opacity="0.85"/>
<defs><filter id="emb" x="-5%" y="-20%" width="110%" height="140%"><feOffset in="SourceAlpha" dx="0.8" dy="2.4" result="dn"/><feComposite in="SourceAlpha" in2="dn" operator="out" result="topb"/><feFlood flood-color="#7a1800" result="dk"/><feComposite in="dk" in2="topb" operator="in" result="dkb"/><feGaussianBlur in="dkb" stdDeviation="0.45" result="dkbb"/><feOffset in="SourceAlpha" dx="-1.2" dy="-2.6" result="up"/><feComposite in="SourceAlpha" in2="up" operator="out" result="botb"/><feFlood flood-color="#ff9470" result="lt"/><feComposite in="lt" in2="botb" operator="in" result="ltb"/><feGaussianBlur in="ltb" stdDeviation="0.8" result="ltbb"/><feMerge><feMergeNode in="SourceGraphic"/><feMergeNode in="ltbb"/><feMergeNode in="dkbb"/></feMerge></filter></defs>
<g fill="#fa7748" filter="url(#emb)"><polygon points="1117,1553.0 1128.5,1553.0 1143.4,1597 1160,1553.0 1171.4,1553.0 1151.8,1608.6 1135,1608.6"/><rect x="1160" y="1576" width="20" height="9.5"/><rect x="1228" y="1576" width="18" height="9.5"/><path d="M1204,1550.1 a30.5,30.5 0 1,0 0.01,0 Z M1204,1560.1 a20.5,20.5 0 1,1 -0.01,0 Z" fill-rule="evenodd"/><path d="M1242.9,1553.0 H1254.2 V1598.5 H1282 V1608.6 H1242.9 Z"/><path d="M1273.4,1553.0 H1323.2 V1563.3 H1303.8 V1608.6 H1293 V1563.3 H1273.4 Z"/><path d="M1330,1553.0 H1341.1 V1584.7 A15.4,15.4 0 0,0 1371.9,1584.7 V1553.0 H1383 V1584.7 A26.5,26.5 0 0,1 1330,1584.7 Z"/><polygon points="1391.5,1553.0 1410,1553.0 1426.5,1594 1443,1553.0 1461.6,1553.0 1461.6,1608.6 1451.3,1608.6 1451.3,1572 1435.4,1608.6 1417.7,1608.6 1402.4,1572 1402.4,1608.6 1391.5,1608.6"/></g>
<g fill="none" stroke="#ff5300" stroke-width="3.4" stroke-linejoin="miter">
<line x1="1690.9" y1="444" x2="1690.9" y2="657.6"/>
<polyline points="1666.6,467.9 1690.9,443.6 1715.2,467.9"/>
<line x1="1690.9" y1="783.4" x2="1690.9" y2="995"/>
<polyline points="1666.6,971.5 1690.9,995.8 1715.2,971.5"/>
</g>
<text transform="translate(1618.47,737.60) scale(1.210,1)" font-family="Liberation Sans, sans-serif" font-size="62.1" fill="#ff5300">8</text>
<text transform="translate(1679.00,737.60) scale(1.010,1)" font-family="Liberation Sans, sans-serif" font-size="62.1" fill="#ff5300">C</text>
<text transform="translate(1724.34,737.60) scale(1.112,1)" font-family="Liberation Sans, sans-serif" font-size="62.1" fill="#ff5300">M</text>
</svg></body></html>
